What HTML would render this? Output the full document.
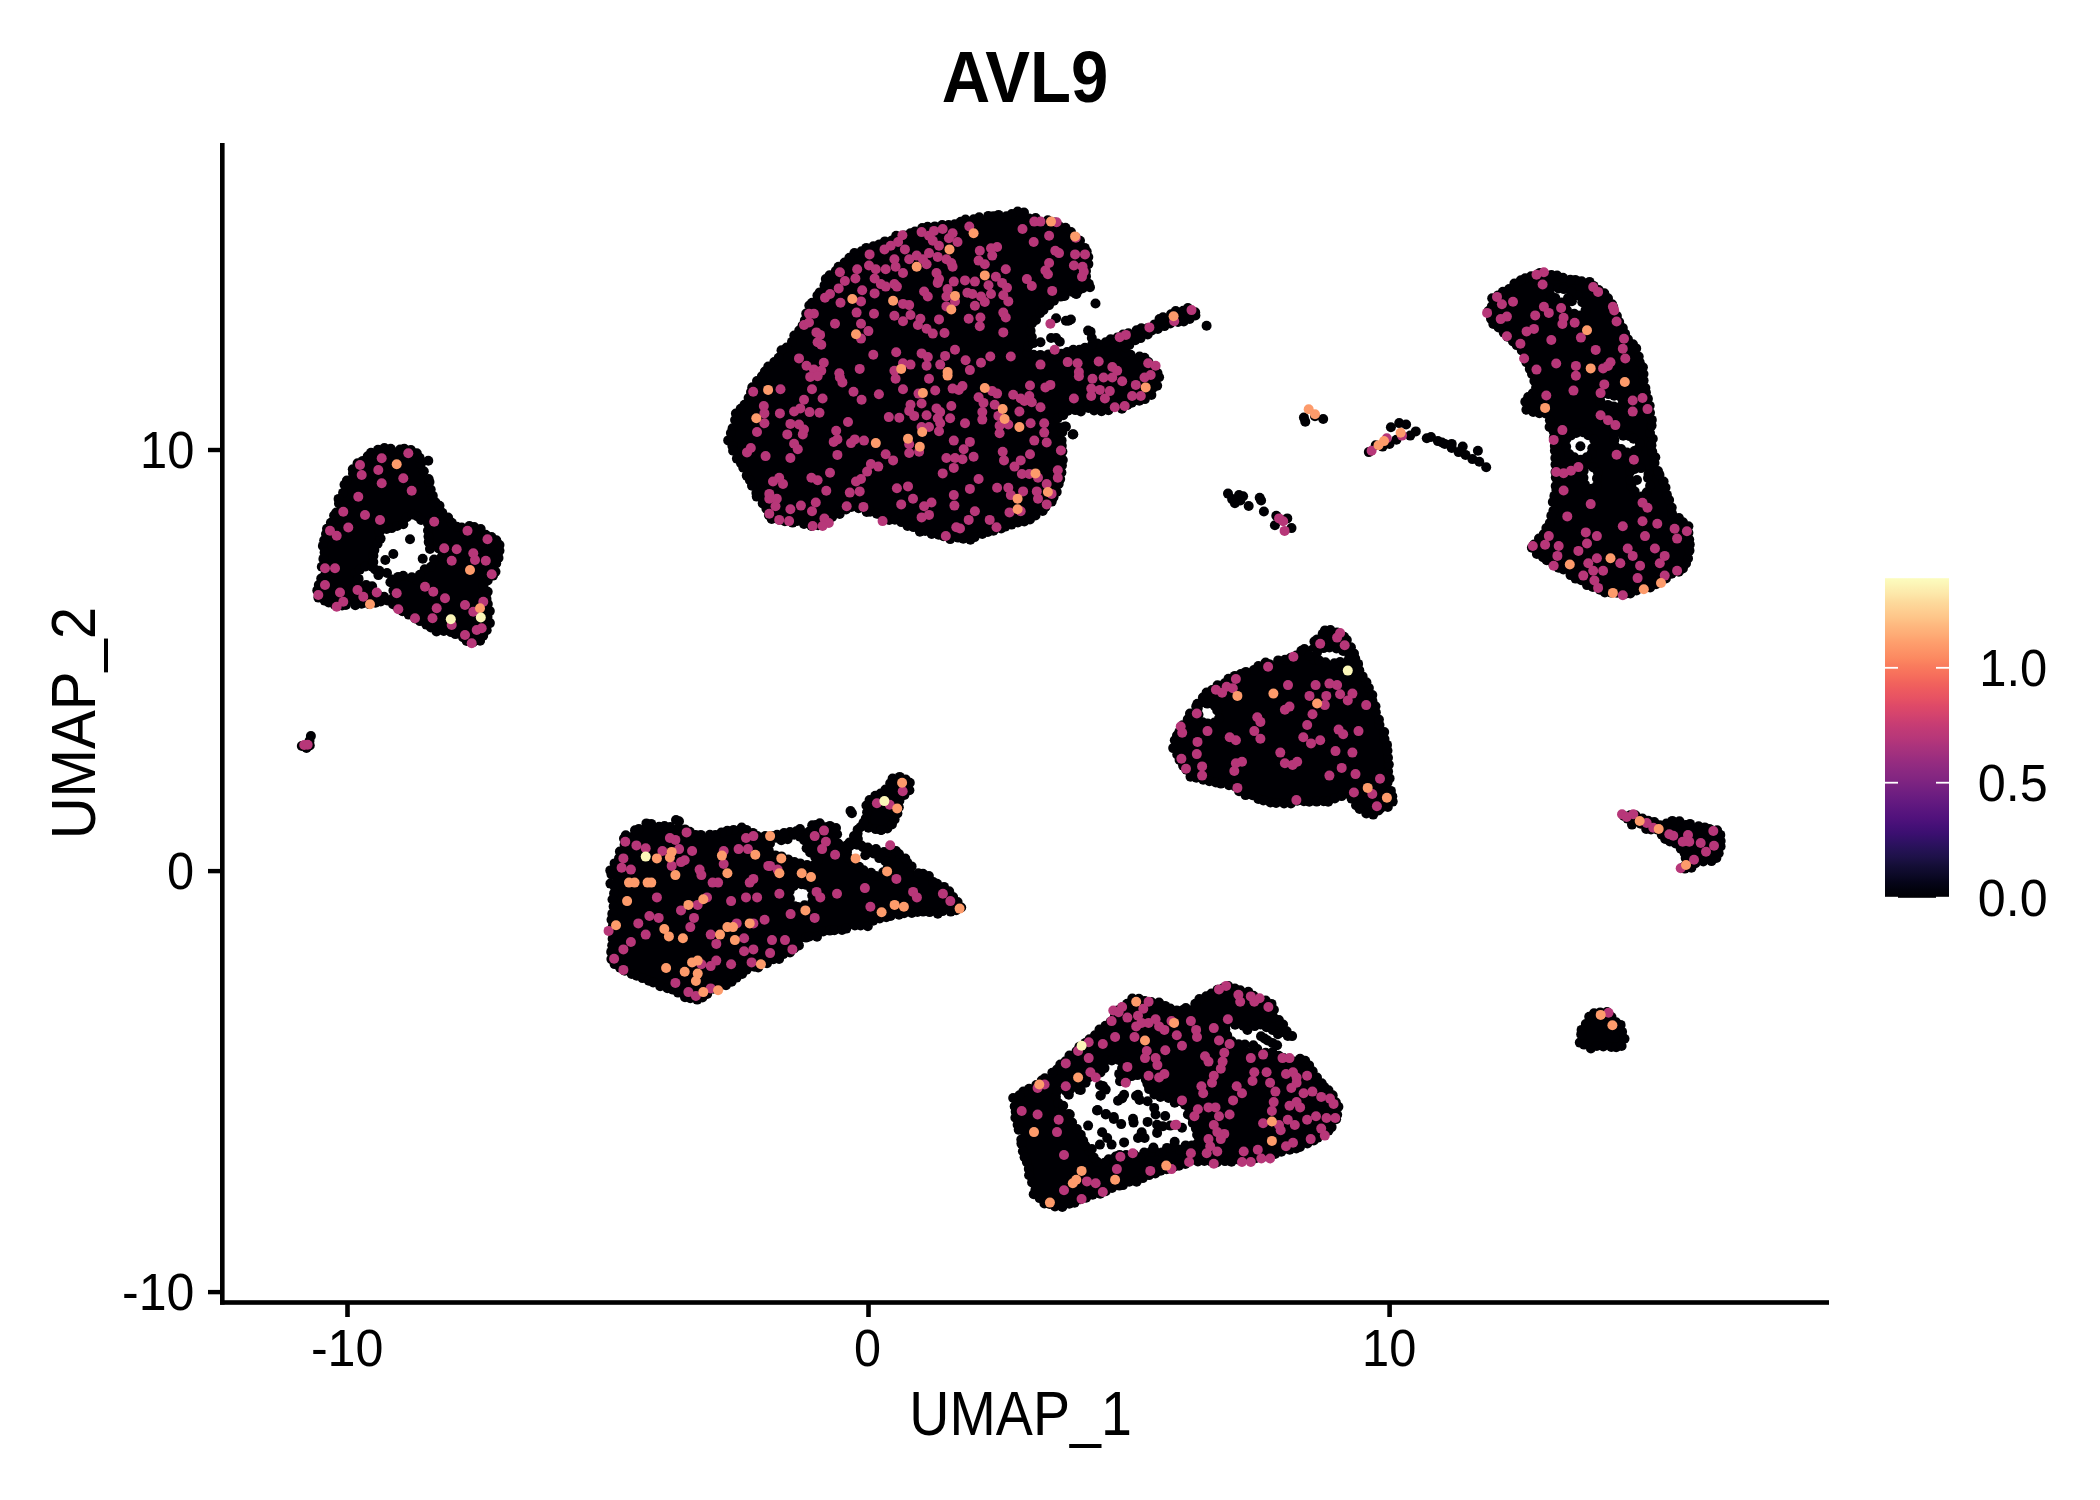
<!DOCTYPE html>
<html><head><meta charset="utf-8"><title>AVL9</title>
<style>html,body{margin:0;padding:0;background:#fff;width:2100px;height:1500px;overflow:hidden}svg{display:block}</style></head>
<body><svg width="2100" height="1500" viewBox="0 0 2100 1500">
<rect width="2100" height="1500" fill="#fff"/>
<g fill="#000004"><path fill-rule="evenodd" d="M372.2 452 364.7 460.9 364.5 461.2 364.2 461.4 363.9 461.6 363.6 461.8 363.3 462 362.9 462.1 354.6 464.9 348.7 478.3 348.6 478.5 340.5 494.7 337.2 509.2 337.1 509.6 337 509.9 336.8 510.3 328.6 525 324 537.4 324 550 324 550.3 322.3 573.6 322.3 574 322.2 574.4 322.1 574.7 317.2 587.7 316 594.8 323.8 599.9 334.3 605.9 356.4 604.3 356.7 604.3 372.8 604.3 385.7 601.1 386.1 601 386.4 601 386.8 601 387.2 601 387.6 601.1 387.9 601.2 388.3 601.3 388.6 601.5 388.9 601.7 389.2 601.9 398.9 610 411.8 616.4 411.9 616.5 426.9 624.8 427 624.9 437.7 631 446.7 631 447 631 447.4 631.1 447.7 631.1 448.1 631.3 461.4 636.3 461.7 636.4 462 636.6 462.3 636.7 472 643.7 482.4 638.5 487.8 631.8 489.3 608.4 487.7 595.9 484.5 586.3 484.4 585.9 484.4 585.5 484.3 585.1 484.3 584.7 484.4 584.3 484.5 583.9 484.6 583.5 484.8 583.2 485 582.8 485.2 582.5 485.5 582.2 485.8 581.9 494.7 574.5 497.7 557.6 497.8 557.4 500.7 545.7 494 534.9 474.1 527.3 454.7 525.7 454.3 525.6 453.9 525.5 453.5 525.4 453.2 525.2 452.9 525 452.5 524.8 452.2 524.6 452 524.3 451.7 524 451.5 523.7 445.1 512.4 438.8 506.2 438.6 505.8 438.3 505.5 438.1 505.1 431.4 491.8 431.2 491.3 426.2 476.4 418.3 455.7 410 448.8 396.8 447.4 372.2 452ZM356.1 572.9 356 572.5 356 572.1 356 571.7 356.1 571.3 356.2 570.9 356.3 570.5 356.5 570.1 356.7 569.8 356.9 569.5 357.2 569.2 357.5 568.9 357.8 568.7 358.1 568.5 358.5 568.3 358.9 568.2 359.2 568.1 359.6 568 370.6 567 371 567 371.4 567 371.8 567.1 372.2 567.2 372.5 567.3 372.9 567.5 373 567.5 373 567.5 372.9 567.1 372.8 566.7 372.7 566.3 372.7 565.9 372.7 565.5 372.8 565.2 373.9 559.9 372.8 553.4 372.7 553 372.7 552.6 372.7 552.2 372.8 551.9 372.9 551.5 373 551.1 373.2 550.8 376.5 544.8 376.7 544.4 380.4 539.1 379.4 534.1 379.3 533.7 379.3 533.3 379.3 532.9 379.4 532.5 379.5 532.2 379.6 531.8 379.8 531.4 380 531.1 380.2 530.8 380.5 530.5 380.8 530.2 381.1 530 381.4 529.8 381.8 529.6 382.1 529.5 382.5 529.4 382.9 529.3 383.3 529.3 383.7 529.3 389.2 529.9 398.7 524.5 399.1 524.3 399.5 524.2 399.9 524.1 400.3 524 400.7 524 403.9 524 410 515 410.2 514.7 410.5 514.4 410.8 514.2 411.1 514 411.4 513.8 411.8 513.6 412.2 513.5 412.5 513.4 412.9 513.3 413.3 513.3 413.7 513.3 414.1 513.4 414.5 513.5 414.8 513.6 415.2 513.8 415.5 514 415.8 514.2 416.1 514.5 422.4 520.7 427.1 523.1 427.5 523.3 427.8 523.6 428.1 523.8 428.3 524.1 428.6 524.4 428.8 524.7 429 525.1 429.1 525.4 429.2 525.8 429.3 526.2 429.3 526.6 429.3 527 429.2 527.3 428 535 428 545 431.8 548.8 439.6 549.3 439.9 549.4 440.3 549.4 440.7 549.6 441.1 549.7 441.4 549.9 441.7 550.1 442 550.4 442.3 550.6 442.5 550.9 442.7 551.3 442.9 551.6 443.1 552 443.2 552.3 443.3 552.7 443.3 553.1 443.3 553.5 443.3 553.9 443.2 554.3 443.1 554.6 442.9 555 442.7 555.3 442.5 555.7 442.3 556 442 556.2 434.7 562.9 434.4 563.2 429.2 567.1 422.9 572.7 418.4 578.5 418.2 578.8 417.9 579 417.6 579.3 417.3 579.5 416.9 579.7 416.6 579.8 416.2 579.9 415.8 580 415.4 580 415 580 414.6 579.9 414.3 579.9 413.9 579.7 413.5 579.6 413.2 579.4 408.9 576.7 401.2 576.7 393.7 578.6 393.3 578.7 392.9 578.7 392.5 578.7 392.1 578.7 391.7 578.6 391.3 578.5 391 578.3 390.6 578.1 390.3 577.9 390.3 577.9 392.9 591.2 393 591.6 393 592 393 592.4 392.9 592.8 392.8 593.1 392.7 593.5 392.5 593.9 392.3 594.2 392.1 594.5 391.9 594.8 391.6 595.1 391.3 595.3 390.9 595.5 390.6 595.7 390.2 595.8 389.9 595.9 389.5 596 389.1 596 388.7 596 375.7 595 375.3 594.9 374.9 594.8 374.5 594.7 374.1 594.5 373.8 594.3 373.5 594.1 373.2 593.8 372.9 593.5 372.7 593.2 372.4 592.8 372.3 592.5 372.1 592.1 372.1 591.7 372 591.3 371.5 584.1 362.4 585 362 585 361.6 585 361.2 584.9 360.9 584.8 360.5 584.7 360.1 584.5 359.8 584.4 359.5 584.1 359.2 583.9 358.9 583.6 358.7 583.3 358.5 582.9 358.3 582.6 358.2 582.2 358.1 581.9 356.1 572.9ZM387.7 573.4 387.2 572.2 382.5 571.2 375.9 569.9 375.5 569.8 375.2 569.7 374.8 569.5 374.7 569.5 374.8 569.8 374.9 570.2 375 570.6 375.2 573 386 573 386.4 573 386.8 573.1 387.2 573.2 387.5 573.3 387.7 573.4ZM947.6 224.7 947.3 224.8 923.1 228.4 903.7 235.7 903.6 235.7 874 245.6 855 252.7 840.9 264.5 829 276.3 819.4 293.1 819.3 293.4 809.6 307.9 802.4 324.8 802.2 325.1 802 325.5 792.2 340.3 792 340.4 777.2 360.2 776.8 360.6 764.6 372.8 752.7 387.1 745.5 401.5 745.4 401.7 735.7 418.6 728.9 439 735.7 454.7 745.4 471.8 745.5 472 755.3 491.5 765 506.1 765.2 506.4 765.4 506.8 769.6 517.4 782.1 521.6 798.7 521.6 799.1 521.6 799.4 521.6 799.8 521.7 815.5 526.2 836.2 514.7 836.4 514.6 851.2 507.2 851.6 507 851.9 506.9 852.3 506.8 852.7 506.8 853.1 506.8 853.5 506.8 853.9 506.9 873.7 511.8 874.1 511.9 874.5 512.1 889 519.3 905.9 524.2 906.4 524.3 923.3 531.6 947.5 536.4 966.6 540.3 966.9 540 967.2 539.7 967.5 539.5 967.8 539.3 968.2 539.1 985.4 531.7 985.8 531.6 986.1 531.5 1008.1 526.6 1036.6 517.1 1050.3 503.4 1059.6 484.9 1061.9 461.2 1061.9 437 1059.5 422.6 1059.5 422.2 1059.5 421.8 1059.5 421.4 1059.6 421 1059.7 420.7 1059.8 420.3 1060 420 1060.2 419.6 1060.4 419.3 1060.7 419.1 1068.1 411.7 1068.3 411.4 1068.7 411.2 1069 411 1069.3 410.8 1069.7 410.7 1070.1 410.6 1070.5 410.5 1070.9 410.5 1092.9 410.5 1121.7 408.1 1149.8 396.4 1158.2 386 1158.2 374 1145.1 358.9 1126.6 354.2 1126.3 354.1 1125.9 354 1125.6 353.8 1125.2 353.6 1124.9 353.3 1124.7 353 1124.4 352.7 1124.2 352.4 1124 352.1 1123.9 351.7 1123.7 351.3 1123.7 350.9 1123.6 350.5 1123.6 350.2 1123.7 349.8 1123.7 349.4 1123.9 349 1124 348.6 1124.2 348.3 1124.4 348 1124.7 347.7 1124.9 347.4 1125.2 347.1 1125.6 346.9 1150.2 332.1 1150.6 331.9 1150.9 331.8 1170.6 324.4 1170.9 324.3 1193.9 317.4 1196.6 312.1 1190.9 307.9 1166.4 314.6 1149.7 326.5 1149.3 326.7 1149 326.9 1148.6 327 1119 336.9 1089.4 346.7 1089 346.9 1054.4 354.3 1054 354.3 1053.6 354.4 1031.4 354.4 1031 354.3 1030.6 354.3 1030.3 354.2 1029.9 354.1 1029.6 353.9 1029.2 353.7 1028.9 353.5 1028.6 353.2 1028.4 352.9 1028.1 352.6 1027.9 352.3 1027.7 352 1027.6 351.6 1027.5 351.2 1027.4 350.9 1027.4 350.5 1027.4 350.1 1027.5 349.7 1027.5 349.3 1027.7 349 1027.8 348.6 1028 348.3 1028.2 348 1034.3 339.9 1030.2 329.6 1030 329.3 1029.9 328.9 1029.9 328.5 1029.9 328.1 1029.9 327.8 1030 327.4 1030 327 1030.2 326.6 1030.3 326.3 1030.5 326 1030.8 325.7 1040.6 313.3 1040.9 313 1041.1 312.8 1058.4 298 1058.7 297.8 1059 297.6 1059.3 297.4 1059.6 297.3 1079 290 1088.6 284.2 1086.7 274.7 1086.6 274.2 1086.6 273.8 1086.7 273.3 1088.9 257.4 1080 241.8 1068.3 230.1 1057.1 222.3 1031 219.9 1030.7 219.8 1030.3 219.7 1029.9 219.6 1029.5 219.4 1029.2 219.2 1028.9 219 1028.6 218.7 1028.3 218.4 1028.1 218.1 1024.5 212.8 1007.2 214.9 1007.2 214.9 975.3 218.6 947.6 224.7ZM758 835.5 743.5 827.3 720.9 832.6 720.8 832.6 702.2 836.3 701.8 836.4 701.4 836.4 701.1 836.4 700.7 836.3 700.4 836.3 700 836.1 685.5 830.8 667.3 827 646.4 823.6 628.2 833.6 623.4 841.5 619.8 854 619.7 854.4 619.6 854.7 619.4 855 610.9 868.5 614.3 889.3 614.4 889.7 614.4 890 614.4 890.4 612.6 908.8 612.6 945.7 612.6 946.1 610.9 962.4 621.5 970 637.7 975.3 638 975.4 638.3 975.6 654.7 984.7 676.7 992 677.2 992.2 694 1000.6 703.3 996 721.7 986.8 736.5 977.6 751.3 968.3 751.7 968.1 752.1 967.9 774 960.6 795.7 948 808.4 937.1 808.7 936.8 809 936.6 809.4 936.4 809.7 936.3 820.8 932.6 821.3 932.5 821.8 932.4 842 930.6 867.1 925.2 875.8 920 876.1 919.8 876.5 919.7 876.8 919.6 877.1 919.5 918.9 911.2 919.4 911.1 919.8 911.1 920.3 911.1 934.6 913.1 944.5 911.2 945 911.1 958.5 910.1 960.7 907.9 957 900.4 945.1 888.5 937.1 884.5 936.8 884.3 936.4 884.1 936.1 883.8 935.9 883.5 935.6 883.2 935.4 882.9 932.1 877 925.1 875.2 924.7 875 916.2 871.8 915.8 871.7 915.4 871.5 915.1 871.2 914.8 870.9 914.5 870.6 906.2 860.3 902.4 857 902.4 857 896.7 852.2 890.5 853 890.4 853 880.4 854 880 854 879.6 854 879.3 853.9 878.9 853.8 878.6 853.7 878.2 853.6 870.2 849.6 869.9 849.4 869.6 849.2 861.6 843.2 861.3 843 861.1 842.7 860.8 842.4 860.6 842.1 860.4 841.8 857.4 835.8 857.3 835.4 857.1 835.1 857.1 834.7 857 834.3 857 833.9 857 833.6 857.1 833.2 857.2 832.8 857.3 832.4 857.5 832.1 857.7 831.8 857.9 831.5 858.2 831.2 858.4 830.9 858.8 830.7 859.1 830.5 859.4 830.3 860.2 830 860 830 857.1 830 853.4 835.1 848.5 843.9 848.3 844.3 848.1 844.6 847.8 844.9 847.5 845.1 847.2 845.3 846.9 845.5 846.5 845.7 846.1 845.8 845.8 845.9 845.4 846 845 846 840 846 839.6 846 839.2 845.9 838.8 845.8 838.5 845.7 838.1 845.5 837.8 845.3 837.5 845.1 837.2 844.8 836.9 844.5 836.7 844.2 836.5 843.9 836.3 843.5 836.2 843.2 836.1 842.8 836 842.4 836 842 836 841.6 837 832.3 835.7 827.4 828.9 826.1 824.6 826.7 824.2 826.7 823.8 826.7 823.4 826.7 823 826.6 814.4 824.4 806 832.2 805.7 832.5 805.4 832.7 805.1 832.9 804.7 833 804.4 833.2 804 833.2 803.6 833.3 803.2 833.3 802.8 833.3 802.4 833.2 802.1 833.1 801.7 833 796.6 830.7 787.6 831.2 784.6 833.7 784.3 834 783.9 834.2 783.6 834.4 783.2 834.5 782.8 834.6 782.5 834.7 771.2 836 770.7 836 760 836 759.6 836 759.2 835.9 758.8 835.8 758.4 835.7 758 835.5ZM847.2 852.3 847.1 851.9 847 851.5 847 851.1 847 850.7 847.1 850.3 847.2 849.9 847.3 849.5 847.5 849.1 847.7 848.8 847.9 848.5 848.2 848.2 848.5 847.9 848.8 847.7 849.2 847.5 849.5 847.3 849.9 847.2 856.9 845.2 857.3 845.1 857.7 845 858 845 858.4 845 858.8 845.1 859.2 845.2 859.5 845.3 859.9 845.5 860.2 845.7 866.2 849.6 874.1 854.6 874.4 854.8 885.4 862.8 885.7 863 885.9 863.3 886.2 863.6 886.4 863.9 886.6 864.2 886.7 864.6 886.9 864.9 886.9 865.3 887 865.7 887 866.1 887 866.5 886.9 866.8 886.8 867.2 886.7 867.6 886.5 867.9 886.3 868.3 886.1 868.6 881.1 874.6 880.8 874.8 880.5 875.1 880.2 875.3 879.9 875.5 879.5 875.7 879.2 875.8 878.8 875.9 878.4 876 878 876 877.6 876 877.2 875.9 876.9 875.8 866.9 872.8 866.5 872.7 866.2 872.6 865.9 872.4 865.6 872.2 857.9 866.4 852.2 863.6 851.9 863.4 851.5 863.2 851.2 862.9 851 862.6 850.7 862.3 850.5 862 850.3 861.6 850.2 861.3 847.2 852.3ZM769.3 844 769.3 843.6 769.4 843.2 769.5 842.8 769.6 842.5 769.8 842.1 770 841.8 770.2 841.5 770.5 841.2 770.8 840.9 771.1 840.7 771.4 840.5 771.8 840.3 772.1 840.2 772.5 840.1 772.9 840 773.3 840 782.5 840 795.2 835 795.6 834.9 796 834.8 796.3 834.7 796.7 834.7 797.1 834.7 797.5 834.8 797.8 834.9 798.2 835 798.5 835.1 798.9 835.3 799.2 835.6 799.5 835.8 799.7 836.1 804.3 841.4 804.6 841.7 804.8 842.1 805 842.5 805.1 842.9 806.8 848.4 817.2 856.9 817.5 857.2 817.8 857.4 818 857.7 818.2 858.1 818.4 858.4 818.5 858.8 818.6 859.2 818.7 859.5 818.7 859.9 818.7 860.3 818.6 860.7 818.6 861.1 818.4 861.4 818.3 861.8 818.1 862.1 817.9 862.4 817.6 862.7 817.4 863 817.1 863.2 816.7 863.4 816.4 863.6 816 863.8 815.7 863.9 807.7 865.9 807.3 866 806.9 866 806.6 866 806.2 866 805.8 865.9 805.4 865.8 795.4 862.5 795 862.3 794.6 862.1 788.5 858.5 775.9 855.9 775.5 855.8 775.2 855.7 774.8 855.5 774.5 855.4 774.2 855.1 770.8 852.4 770.5 852.2 770.2 851.9 770 851.6 769.8 851.2 769.6 850.9 769.5 850.5 769.4 850.1 769.3 849.7 769.3 849.3 769.3 844ZM789.2 891.1 789.1 890.7 789 890.3 789 889.9 789 889.5 789.1 889.1 789.2 888.7 789.3 888.4 789.5 888 789.7 887.7 790 887.4 790.3 887.1 790.6 886.8 790.9 886.6 791.3 886.4 791.6 886.2 792 886.1 792.4 886 805.4 884 805.8 884 806.2 884 806.6 884 807 884.1 807.3 884.2 807.7 884.4 808 884.6 808.4 884.8 808.7 885 809 885.3 809.2 885.6 809.4 885.9 809.6 886.3 809.8 886.7 809.9 887 812.9 899 813 899.4 813 899.8 813 900.2 813 900.6 812.9 901 812.8 901.4 812.6 901.7 812.4 902.1 812.2 902.4 811.9 902.7 811.6 903 811.3 903.3 811 903.5 810.6 903.7 810.3 903.8 798.3 907.8 797.9 907.9 797.5 908 797.1 908 796.7 908 796.3 907.9 795.9 907.8 795.5 907.7 795.1 907.5 794.8 907.3 794.5 907.1 794.2 906.8 793.9 906.5 793.7 906.2 793.5 905.8 793.3 905.5 793.2 905.1 789.2 891.1ZM862.8 828.9 866.4 827.3 866.8 827.2 867.1 827.1 867.5 827 867.9 827 868.2 827 868.6 827 869 827.1 876.9 829.1 885.1 830.7 890.7 826.7 891 826.6 892.1 825.9 895.7 818.8 897.7 809.8 898.7 801.5 898.8 801.1 898.9 800.7 899.1 800.3 899.3 799.9 899.5 799.6 899.8 799.3 900.1 799 907.7 792.3 909.9 784 904.8 778.8 896.5 776.3 893.7 777.5 887.5 788.6 887.3 789 887.1 789.2 886.8 789.5 886.6 789.8 886.3 790 886 790.2 876.9 795.3 870.6 800.4 866.4 804.1 865.5 808.7 867.6 812.9 867.7 813.3 867.9 813.6 867.9 814 868 814.4 868 814.8 868 815.2 867.9 815.5 867.8 815.9 867.7 816.3 867.5 816.6 867.3 816.9 867.1 817.2 866.8 817.5 863.1 821.3 863.9 825.2 864 825.5 864 825.9 864 826.3 863.9 826.7 863.8 827.1 863.7 827.5 863.5 827.8 863.3 828.2 863.1 828.5 862.8 828.8 862.8 828.9ZM1013.6 1098.9 1015.1 1113.8 1020.3 1134.6 1020.4 1135.2 1022.1 1150.4 1028.9 1165.7 1029 1166.1 1029.1 1166.5 1029.2 1166.8 1030.9 1180.6 1035.7 1196.6 1046.3 1204.1 1060.3 1207.2 1080.2 1200.6 1097.8 1193.6 1098 1193.5 1119.1 1186.4 1119.2 1186.4 1141.8 1179.5 1155.6 1172.6 1155.9 1172.4 1156.2 1172.3 1173.8 1167 1191.5 1161.7 1191.8 1161.6 1192.2 1161.6 1192.6 1161.6 1218.9 1161.6 1244.9 1159.8 1271.1 1154.6 1295.3 1149.4 1317.5 1139.2 1332.1 1129.4 1338.3 1115.6 1336.8 1100.3 1312 1071.6 1311.8 1071.3 1311.6 1071 1311.4 1070.7 1307.3 1062.2 1300.5 1057.4 1298.2 1058.3 1293.9 1061.7 1293.6 1062 1293.2 1062.2 1292.9 1062.3 1292.5 1062.4 1292.1 1062.5 1291.8 1062.6 1291.4 1062.6 1291 1062.6 1290.6 1062.5 1290.2 1062.4 1289.9 1062.3 1289.5 1062.1 1289.2 1061.9 1280.8 1056.3 1280.5 1056.1 1280.2 1055.8 1279.9 1055.5 1279.7 1055.2 1278.7 1053.8 1269.6 1053 1269.2 1052.9 1268.9 1052.8 1260 1050.2 1250.6 1052.8 1250.2 1052.9 1249.8 1053 1249.4 1053 1249 1053 1248.6 1052.9 1248.2 1052.8 1247.9 1052.7 1247.5 1052.5 1247.2 1052.3 1246.9 1052 1246.6 1051.7 1246.3 1051.4 1246.1 1051.1 1245.9 1050.7 1245.7 1050.4 1243.7 1044.8 1234.8 1042.9 1234.5 1042.8 1234.1 1042.7 1233.7 1042.5 1233.4 1042.2 1233 1042 1232.7 1041.7 1227.5 1036 1227.3 1035.7 1227.1 1035.3 1226.9 1035 1226.7 1034.6 1226.6 1034.2 1226.5 1033.8 1225.5 1025.3 1225.5 1024.9 1225.5 1024.5 1225.6 1024.1 1225.7 1023.7 1225.8 1023.3 1225.9 1023 1226.1 1022.6 1226.4 1022.3 1226.6 1022 1226.9 1021.7 1227.2 1021.5 1227.6 1021.3 1227.9 1021.1 1228.3 1021 1228.7 1020.9 1229.1 1020.8 1229.5 1020.8 1229.9 1020.8 1230.3 1020.9 1230.6 1021 1231 1021.1 1231.4 1021.3 1231.7 1021.5 1240 1026.9 1246.3 1029.5 1253 1027.2 1253 1027.2 1260.1 1024.8 1260.5 1024.7 1260.8 1024.6 1261.2 1024.6 1261.6 1024.6 1262 1024.6 1262.3 1024.7 1262.7 1024.8 1263 1025 1269.2 1027.8 1269.6 1027.9 1269.9 1028.1 1270.2 1028.3 1270.4 1028.6 1273 1031.2 1275.2 1032.6 1278 1031.5 1278.4 1031.4 1278.7 1031.3 1279.1 1031.2 1279.5 1031.2 1279.9 1031.2 1280.3 1031.3 1280.6 1031.4 1281 1031.5 1281.4 1031.7 1281.7 1031.9 1284.6 1033.8 1285 1034 1285.3 1034.3 1285.6 1034.7 1287.9 1037.7 1290.8 1038.2 1291.2 1038 1291.2 1034.3 1286.1 1030.2 1285.8 1030 1285.6 1029.7 1285.4 1029.5 1285.2 1029.2 1281.3 1022.7 1274.6 1017.4 1274.3 1017.2 1274.1 1016.9 1273.8 1016.6 1273.6 1016.2 1273.4 1015.9 1273.3 1015.5 1273.2 1015.1 1273.1 1014.8 1273.1 1014.4 1273.1 1014 1273.5 1009.1 1269.7 1003.1 1244 991.3 1229.3 986.4 1220.5 987.9 1203.5 998.1 1203.4 998.2 1187.5 1007 1187.2 1007.1 1186.8 1007.3 1176.3 1010.8 1175.9 1010.9 1175.5 1011 1175.1 1011 1174.7 1011 1174.3 1010.9 1173.9 1010.9 1173.6 1010.7 1173.2 1010.6 1156.2 1002.1 1133.7 998.8 1119.7 1008.1 1109.6 1023.3 1109.4 1023.7 1109.1 1024 1108.7 1024.3 1092.9 1036.6 1075.5 1050.5 1061.5 1064.4 1061.4 1064.6 1045.5 1078.7 1045.2 1078.9 1044.9 1079.1 1027.4 1089.7 1013.6 1098.9ZM1055.8 1096.8 1055.6 1096.4 1055.6 1096 1055.5 1095.6 1055.5 1095.2 1055.6 1094.8 1055.7 1094.4 1055.8 1094 1056 1093.7 1056.2 1093.3 1056.4 1093 1056.7 1092.7 1057 1092.4 1057.3 1092.2 1057.6 1092 1058 1091.8 1058.4 1091.6 1072.4 1087.4 1080.6 1081.3 1080.9 1081.1 1081.2 1080.9 1081.5 1080.8 1093.5 1075.8 1102.6 1069.3 1106.6 1061.4 1106.8 1061.1 1107 1060.8 1107.2 1060.5 1107.5 1060.2 1107.8 1060 1108.1 1059.8 1108.5 1059.6 1108.8 1059.4 1109.2 1059.3 1109.6 1059.2 1109.9 1059.2 1110.3 1059.2 1110.7 1059.2 1121 1060.7 1121.4 1060.8 1121.7 1060.9 1122.1 1061 1122.5 1061.2 1122.8 1061.4 1123.1 1061.7 1123.4 1062 1123.6 1062.3 1123.8 1062.6 1124 1062.9 1124.2 1063.3 1124.3 1063.7 1124.4 1064.1 1124.4 1064.5 1124.4 1064.9 1124.4 1065.2 1124.3 1065.6 1124.2 1066 1124 1066.4 1123.9 1066.7 1123.6 1067 1123.4 1067.3 1118.2 1073.2 1119.6 1079.7 1123.2 1081.9 1129.9 1077.5 1130.3 1077.3 1130.7 1077.1 1131.1 1077 1131.5 1076.9 1131.9 1076.8 1132.3 1076.8 1132.7 1076.8 1143.7 1078.3 1144.1 1078.4 1144.5 1078.5 1144.8 1078.6 1145.2 1078.8 1145.5 1079 1145.8 1079.3 1146.1 1079.6 1146.4 1079.9 1146.6 1080.2 1146.8 1080.6 1146.9 1080.9 1147 1081.3 1148.9 1088.9 1154.8 1094.2 1161.1 1096.7 1165 1097.4 1175.3 1098.9 1175.6 1098.9 1176 1099 1176.3 1099.1 1176.6 1099.3 1176.9 1099.5 1187.9 1106.8 1188.3 1107.1 1188.6 1107.3 1188.8 1107.7 1189.1 1108 1189.3 1108.4 1189.4 1108.7 1189.6 1109.1 1197.6 1139.9 1197.7 1140.3 1197.8 1140.7 1197.8 1141.1 1197.7 1141.5 1197.7 1141.9 1197.6 1142.3 1197.4 1142.6 1197.2 1143 1197 1143.3 1196.8 1143.6 1196.5 1143.9 1196.2 1144.1 1195.9 1144.4 1195.5 1144.5 1195.2 1144.7 1183.4 1149.1 1183.1 1149.2 1182.7 1149.3 1182.3 1149.3 1181.9 1149.4 1181.5 1149.3 1181.1 1149.3 1180.8 1149.2 1171.6 1146.1 1162.2 1152.4 1161.9 1152.6 1161.5 1152.7 1161.1 1152.9 1160.7 1153 1160.3 1153 1159.9 1153 1159.5 1153 1159.1 1152.9 1146.6 1149.8 1140.9 1155.5 1140.5 1155.8 1140.2 1156 1139.9 1156.2 1139.5 1156.4 1139.1 1156.5 1138.7 1156.6 1138.3 1156.7 1137.9 1156.7 1137.5 1156.7 1137.1 1156.6 1123.4 1153.2 1117.6 1154.9 1103.4 1163.5 1103.1 1163.6 1102.7 1163.8 1102.4 1163.9 1102 1164 1101.6 1164 1101.2 1164 1100.9 1164 1100.5 1163.9 1100.1 1163.8 1099.8 1163.7 1099.4 1163.5 1099.1 1163.3 1098.8 1163.1 1098.5 1162.9 1091.2 1155.5 1090.9 1155.2 1090.6 1154.9 1090.4 1154.5 1083.2 1139.9 1072.6 1122.3 1062.1 1113.2 1061.8 1112.9 1061.5 1112.6 1061.2 1112.2 1061.1 1111.9 1060.9 1111.5 1055.8 1096.8ZM1173.7 741.9 1172.7 745.7 1177.9 753.4 1178 753.7 1178.2 754 1184.2 767.5 1190.8 776.8 1209 782.4 1227 783.9 1227.3 783.9 1227.7 784 1228 784.1 1228.4 784.2 1228.7 784.4 1246.7 794.9 1265.9 800.8 1284.9 803.7 1302.7 800.8 1303.1 800.7 1303.6 800.7 1325.7 802.2 1344.8 794.9 1345.2 794.7 1345.6 794.6 1346 794.6 1346.4 794.6 1346.8 794.6 1347.2 794.7 1347.6 794.8 1347.9 795 1348.3 795.1 1348.6 795.4 1348.9 795.6 1349.2 795.9 1349.5 796.2 1358.3 808 1363.7 812 1372.8 816.6 1376.9 811.4 1377.2 811.1 1377.5 810.8 1377.8 810.6 1378.2 810.3 1391.6 803.7 1392.7 793.6 1389.1 788.7 1388.8 788.4 1388.6 788 1388.5 787.7 1388.4 787.3 1388.3 786.9 1388.3 786.5 1388.3 786.1 1389.8 763.6 1385.3 741.4 1377.7 718.6 1377.6 718.3 1374.6 706 1374.6 705.9 1371.6 692.7 1361.1 673.2 1360.9 672.8 1354.8 657.5 1354.8 657.4 1349 641.4 1336.9 630.7 1325.2 629.5 1318.8 638.4 1318.6 638.7 1318.3 639 1318 639.3 1305.8 648.4 1298.2 654.5 1297.8 654.7 1297.5 654.9 1297.2 655.1 1296.8 655.2 1281.5 659.8 1281.1 659.9 1266.3 662.9 1251.5 670.3 1251.1 670.5 1231.3 678.1 1216.5 685.5 1203.5 695.6 1191.7 711.9 1173.7 741.9ZM1313 658.9 1312.7 658.8 1312.3 658.6 1312 658.4 1311.6 658.2 1311.3 658 1311.1 657.7 1310.8 657.4 1310.6 657.1 1310.4 656.8 1310.3 656.4 1310.1 656 1310.1 655.7 1310 655.3 1310 654.9 1310 654.5 1310.1 654.1 1310.2 653.7 1310.3 653.4 1310.5 653 1310.7 652.7 1311 652.4 1311.2 652.1 1311.5 651.9 1311.8 651.6 1312.2 651.4 1312.5 651.3 1312.9 651.2 1313.3 651.1 1329.3 648.1 1329.7 648 1330.1 648 1330.5 648 1331 648.1 1347 652.1 1347.3 652.2 1347.7 652.4 1348 652.6 1348.4 652.8 1348.7 653 1348.9 653.3 1349.2 653.6 1349.4 653.9 1349.6 654.2 1349.7 654.6 1349.9 655 1349.9 655.3 1350 655.7 1350 656.1 1350 656.5 1349.9 656.9 1349.8 657.3 1349.7 657.6 1349.5 658 1349.3 658.3 1349 658.6 1348.8 658.9 1348.5 659.1 1348.2 659.4 1347.8 659.6 1347.5 659.7 1347.1 659.8 1346.7 659.9 1330.7 662.9 1330.3 663 1329.9 663 1329.5 663 1329 662.9 1313 658.9ZM1197.1 708.1 1197.1 707.7 1197 707.3 1197 706.9 1197 706.5 1197.1 706.1 1197.2 705.8 1197.3 705.4 1197.5 705.1 1197.7 704.7 1197.9 704.4 1198.2 704.1 1198.5 703.9 1198.8 703.7 1199.1 703.5 1199.5 703.3 1199.8 703.2 1200.2 703.1 1200.6 703 1201 703 1201.4 703 1212.4 704 1212.8 704.1 1213.2 704.2 1213.5 704.3 1213.9 704.5 1214.2 704.7 1214.6 704.9 1214.9 705.2 1215.1 705.5 1215.4 705.8 1215.6 706.2 1215.7 706.6 1215.9 706.9 1218.9 717.9 1218.9 718.3 1219 718.7 1219 719.1 1219 719.5 1218.9 719.9 1218.8 720.2 1218.7 720.6 1218.5 720.9 1218.3 721.3 1218.1 721.6 1217.8 721.9 1217.5 722.1 1217.2 722.3 1216.9 722.5 1216.5 722.7 1216.2 722.8 1215.8 722.9 1215.4 723 1215 723 1214.6 723 1203.6 722 1203.2 721.9 1202.8 721.8 1202.5 721.7 1202.1 721.5 1201.8 721.3 1201.4 721.1 1201.1 720.8 1200.9 720.5 1200.6 720.2 1200.4 719.8 1200.3 719.4 1200.1 719.1 1197.1 708.1ZM1488.8 312.1 1490.8 321.9 1507 335.8 1507.2 336 1522 350.8 1522.3 351.1 1522.5 351.4 1522.7 351.7 1522.9 352.1 1527.8 364.4 1527.9 364.7 1535.3 386.9 1535.4 387.3 1535.5 387.7 1535.5 388.1 1535.5 388.5 1535.5 388.9 1535.4 389.2 1535.2 389.6 1535.1 390 1534.9 390.3 1534.6 390.7 1534.4 391 1526 399.4 1527.6 409.6 1544.8 413.9 1545.2 414 1545.5 414.1 1545.9 414.3 1546.2 414.5 1546.5 414.7 1546.8 415 1547 415.3 1547.2 415.6 1547.4 415.9 1547.6 416.2 1547.7 416.6 1555.1 441.3 1555.2 441.6 1555.2 442 1555.3 442.4 1555.3 496.7 1555.2 497.2 1552.8 514.5 1552.7 514.9 1552.5 515.3 1552.4 515.7 1545 530.5 1544.8 530.8 1544.6 531.1 1531.9 548.1 1539 555.2 1553.4 564.8 1570.5 574.6 1570.7 574.7 1590 586.8 1603.9 591.4 1627.3 593.7 1650.8 586.7 1667.7 577.1 1667.9 577 1686 567.9 1690.3 553 1688 525.8 1674.5 514.5 1674.2 514.3 1674 514 1673.7 513.7 1673.5 513.3 1673.4 513 1673.2 512.6 1665.9 488.2 1656.1 466.2 1656 465.9 1655.9 465.5 1651 443.3 1650.9 442.8 1650.9 442.4 1650.9 408.4 1646.1 389.1 1646 388.9 1641.1 362.2 1634.1 345.8 1624.6 333.9 1624.4 333.6 1624.2 333.2 1624 332.9 1614.3 308.5 1605 292.3 1591.7 283.4 1562.9 278.6 1562.5 278.5 1545.8 273.7 1534.9 273.7 1516.3 283.1 1495.3 297.1 1488.8 312.1ZM1630 472.6 1630 472.2 1630 471.8 1630 471.4 1630.1 471 1630.2 470.7 1630.4 470.3 1630.6 470 1630.8 469.6 1631 469.3 1631.3 469.1 1631.6 468.8 1631.9 468.6 1632.2 468.4 1632.6 468.3 1633 468.1 1633.3 468.1 1633.7 468 1634.1 468 1634.5 468 1642.5 469 1642.9 469.1 1643.3 469.2 1643.6 469.4 1644 469.5 1644.3 469.8 1644.7 470 1644.9 470.3 1645.2 470.6 1645.4 470.9 1645.6 471.3 1645.8 471.6 1645.9 472 1648.9 484 1649 484.4 1649 484.8 1649 485.2 1649 485.5 1648.9 485.9 1648.8 486.3 1648.6 486.6 1648.5 487 1644.5 494 1644.3 494.3 1644 494.6 1643.8 494.9 1643.5 495.1 1643.2 495.4 1642.8 495.6 1642.5 495.7 1642.1 495.8 1641.7 495.9 1641.4 496 1641 496 1640.6 496 1640.2 495.9 1639.8 495.8 1639.5 495.7 1639.1 495.5 1638.8 495.3 1638.5 495.1 1638.2 494.8 1637.9 494.6 1632.9 488.6 1632.7 488.3 1632.5 488 1632.3 487.6 1632.2 487.3 1632.1 486.9 1632 486.6 1630 472.6ZM1613.3 439.6 1613.2 439.2 1613.1 438.8 1613 438.4 1613 438.1 1613 437.7 1613.1 437.3 1613.2 436.9 1613.3 436.5 1613.4 436.2 1613.6 435.8 1613.9 435.5 1614.1 435.2 1614.4 434.9 1614.7 434.7 1615.1 434.5 1615.4 434.3 1615.8 434.2 1616.2 434.1 1616.5 434 1616.9 434 1617.3 434 1617.7 434.1 1628.7 436.1 1629.1 436.2 1629.5 436.3 1629.8 436.4 1630.1 436.6 1630.5 436.8 1639.5 443.8 1639.8 444.1 1640 444.4 1640.3 444.7 1640.5 445 1640.7 445.4 1640.8 445.8 1640.9 446.2 1641 446.6 1641 447 1641 447.4 1640.9 447.8 1640.8 448.1 1640.7 448.5 1640.5 448.9 1640.3 449.2 1640.1 449.6 1639.8 449.8 1639.5 450.1 1639.2 450.3 1638.8 450.6 1638.5 450.7 1638.1 450.8 1631.1 452.8 1630.7 452.9 1630.4 453 1630 453 1629.6 453 1629.2 452.9 1628.9 452.8 1628.5 452.7 1618.5 448.7 1618.2 448.6 1617.8 448.4 1617.5 448.1 1617.2 447.9 1616.9 447.6 1616.7 447.3 1616.5 446.9 1616.3 446.6 1613.3 439.6ZM1601.6 401.2 1601.3 400.9 1601 400.7 1600.8 400.4 1600.6 400 1600.4 399.7 1600.2 399.3 1600.1 398.9 1600 398.5 1600 398.1 1600 397.8 1600.1 397.4 1600.1 397 1600.3 396.6 1600.4 396.2 1600.6 395.9 1600.8 395.6 1601.1 395.3 1601.4 395 1601.7 394.7 1602 394.5 1602.4 394.3 1602.7 394.2 1603.1 394.1 1603.5 394 1611.5 393 1611.9 393 1612.3 393 1612.8 393.1 1613.2 393.2 1613.6 393.3 1613.9 393.5 1622.9 398.5 1623.3 398.7 1623.6 398.9 1623.9 399.2 1624.1 399.5 1624.3 399.8 1624.5 400.1 1624.7 400.5 1624.8 400.9 1624.9 401.2 1625 401.6 1625 402 1625 402.4 1624.9 402.8 1624.8 403.1 1624.7 403.5 1624.5 403.9 1624.3 404.2 1624.1 404.5 1623.9 404.8 1623.6 405.1 1623.3 405.3 1622.9 405.5 1622.6 405.7 1622.2 405.8 1621.9 405.9 1612.9 407.9 1612.5 408 1612.1 408 1611.7 408 1611.3 407.9 1611 407.9 1610.6 407.7 1610.3 407.6 1609.9 407.4 1609.6 407.2 1601.6 401.2ZM1583 470.2 1583 469.8 1583 469.4 1583.1 469.1 1583.2 468.7 1583.4 468.3 1583.6 467.9 1583.8 467.6 1584.1 467.3 1584.3 467 1584.7 466.8 1585 466.5 1585.3 466.4 1585.7 466.2 1586.1 466.1 1586.5 466 1586.9 466 1587.3 466 1587.7 466.1 1588.1 466.2 1595.1 468.2 1595.5 468.3 1595.8 468.4 1596.2 468.6 1596.5 468.9 1596.8 469.1 1597 469.4 1597.3 469.7 1597.5 470 1597.7 470.4 1597.8 470.8 1597.9 471.1 1598 471.5 1598 471.9 1598 472.3 1597 485.3 1596.9 485.7 1596.8 486.1 1596.7 486.5 1596.6 486.8 1596.4 487.2 1596.1 487.5 1595.9 487.8 1595.6 488.1 1595.2 488.3 1594.9 488.5 1594.5 488.7 1594.2 488.8 1593.8 488.9 1588.8 489.9 1588.4 490 1588 490 1587.6 490 1587.2 489.9 1586.8 489.8 1586.4 489.7 1586.1 489.5 1585.7 489.3 1585.4 489 1585.1 488.8 1584.9 488.5 1584.6 488.1 1584.4 487.8 1584.3 487.4 1584.1 487 1584.1 486.6 1584 486.2 1583 470.2ZM1566 440.4 1566 440 1566 439.6 1566.1 439.2 1566.2 438.8 1566.3 438.4 1566.5 438.1 1566.7 437.7 1566.9 437.4 1567.2 437.1 1567.5 436.9 1567.8 436.6 1568.2 436.5 1568.5 436.3 1578.5 432.3 1578.9 432.2 1579.2 432.1 1579.6 432 1580 432 1580.4 432 1580.7 432.1 1581.1 432.2 1581.4 432.3 1581.8 432.4 1591.8 437.4 1592.1 437.6 1592.5 437.8 1592.8 438.1 1593 438.4 1593.3 438.7 1593.5 439.1 1593.7 439.4 1593.8 439.8 1593.9 440.2 1594 440.6 1594 441 1594 441.4 1593 452.4 1592.9 452.7 1592.8 453.1 1592.7 453.5 1592.6 453.8 1592.4 454.1 1592.2 454.4 1591.9 454.7 1591.7 455 1591.4 455.2 1591 455.4 1590.7 455.6 1590.4 455.8 1579.4 459.8 1579 459.9 1578.6 460 1578.2 460 1577.8 460 1577.5 460 1577.1 459.9 1576.7 459.8 1576.3 459.6 1576 459.5 1575.7 459.3 1568.7 454.3 1568.4 454 1568.1 453.8 1567.8 453.5 1567.6 453.2 1567.4 452.8 1567.3 452.5 1567.2 452.1 1567.1 451.7 1567 451.4 1566 440.4ZM1567 303.6 1567 303.2 1567 302.8 1567 302.4 1567.1 302 1567.2 301.6 1567.4 301.3 1567.6 300.9 1567.8 300.6 1568.1 300.3 1568.3 300 1568.6 299.8 1569 299.6 1569.3 299.4 1569.7 299.2 1570 299.1 1570.4 299 1577.4 298 1577.8 298 1578.2 298 1578.6 298 1579 298.1 1579.4 298.2 1579.8 298.4 1580.1 298.6 1580.4 298.8 1580.7 299.1 1581 299.4 1581.3 299.7 1581.5 300 1581.7 300.4 1581.8 300.7 1584.8 309.7 1584.9 310.1 1585 310.5 1585 310.9 1585 311.3 1584.9 311.7 1584.8 312.1 1584.7 312.5 1584.5 312.8 1584.3 313.2 1584.1 313.5 1583.8 313.8 1583.5 314.1 1583.2 314.3 1582.9 314.5 1582.5 314.7 1582.1 314.8 1581.8 314.9 1581.4 315 1581 315 1580.6 315 1571.6 314 1571.2 313.9 1570.8 313.8 1570.4 313.7 1570 313.5 1569.7 313.3 1569.4 313 1569.1 312.7 1568.8 312.4 1568.6 312.1 1568.4 311.7 1568.2 311.4 1568.1 311 1568 310.6 1567 303.6ZM1550.4 295 1550.1 294.8 1549.8 294.5 1549.6 294.1 1549.4 293.8 1549.3 293.4 1549.1 293 1549.1 292.7 1549 292.3 1549 291.9 1549 291.5 1549.1 291.1 1549.2 290.7 1549.4 290.3 1549.6 290 1549.8 289.6 1550 289.3 1550.3 289 1550.6 288.8 1550.9 288.6 1551.3 288.4 1551.7 288.2 1552 288.1 1552.4 288 1559.4 287 1559.8 287 1560.2 287 1560.5 287 1560.9 287.1 1561.2 287.2 1561.6 287.3 1568.6 290.3 1568.9 290.5 1569.3 290.7 1569.6 290.9 1569.8 291.2 1570.1 291.5 1570.3 291.8 1570.5 292.1 1570.7 292.5 1570.8 292.8 1570.9 293.2 1571 293.6 1571 294 1571 294.3 1570.9 294.7 1570.8 295.1 1570.7 295.5 1570.6 295.8 1570.4 296.2 1570.1 296.5 1569.9 296.8 1569.6 297 1569.3 297.3 1569 297.5 1562 301.5 1561.6 301.6 1561.3 301.8 1560.9 301.9 1560.6 302 1560.2 302 1559.8 302 1559.4 302 1559.1 301.9 1558.7 301.8 1558.3 301.6 1558 301.5 1557.7 301.3 1557.4 301 1550.4 295ZM1623.1 814.9 1625 817.6 1628.6 820.7 1641.1 824.5 1641.5 824.6 1641.9 824.8 1642.2 825 1642.5 825.2 1642.8 825.5 1643.1 825.8 1645.4 828.5 1657.1 829.7 1657.5 829.7 1657.8 829.8 1658.2 830 1658.6 830.1 1658.9 830.3 1659.2 830.6 1659.5 830.8 1659.8 831.1 1660 831.5 1660.2 831.8 1660.4 832.1 1660.5 832.5 1662.2 838.1 1664.9 840.4 1673.6 841 1674 841.1 1674.3 841.1 1674.7 841.2 1675.1 841.4 1675.4 841.6 1675.7 841.8 1676 842 1676.3 842.3 1676.5 842.6 1676.7 842.9 1679.7 847.7 1684.6 852 1684.9 852.3 1685.2 852.6 1685.4 852.9 1685.6 853.2 1685.7 853.6 1685.9 854 1685.9 854.4 1686 854.8 1686 855.2 1686 855.5 1685.9 855.9 1685.8 856.3 1681.7 868 1683.5 868.8 1688.5 867.3 1694.9 864.1 1695.2 863.9 1695.5 863.8 1695.9 863.7 1705.8 861.8 1715.1 859.3 1717.5 857.9 1718 851.4 1718.1 850.9 1718.2 850.5 1718.3 850 1720.7 844.8 1720.7 838.6 1719.7 831.4 1705.8 826.9 1692.9 825.6 1692.5 825.6 1692.2 825.5 1691.8 825.4 1684.5 822.3 1669 821.7 1663.9 824.5 1663.6 824.7 1663.2 824.8 1662.8 824.9 1662.4 825 1662 825 1661.6 825 1661.2 824.9 1660.8 824.8 1660.5 824.7 1660.1 824.5 1652.1 820.2 1642.8 819 1642.4 818.9 1642.1 818.8 1641.7 818.7 1641.4 818.5 1636 815.5 1624.8 813.8 1623.1 814.9ZM1579.5 1041.6 1581.7 1043.6 1587.6 1046.4 1594 1048.9 1596.5 1046.9 1596.8 1046.7 1597.1 1046.5 1597.5 1046.3 1597.9 1046.2 1598.2 1046.1 1598.6 1046.1 1607.3 1045.2 1607.7 1045.2 1608.1 1045.2 1618.3 1046.4 1621.3 1045.7 1623.2 1041.7 1623.5 1034.7 1620.4 1031.6 1620.2 1031.4 1620 1031.1 1619.8 1030.7 1619.6 1030.4 1619.5 1030.1 1617.1 1022.8 1613.3 1017.5 1610.5 1014.8 1604.1 1011.7 1601.3 1010.9 1595.6 1012.9 1589.1 1017.3 1586.1 1022.9 1586 1023.1 1582.5 1028.9 1581.3 1036.8 1581.2 1037.2 1581 1037.7 1579.5 1041.6Z"/><circle cx="371" cy="452.8" r="5"/><circle cx="367.7" cy="456.3" r="5"/><circle cx="362.8" cy="460.9" r="5"/><circle cx="357.6" cy="463.2" r="5"/><circle cx="352.8" cy="469.2" r="5"/><circle cx="353" cy="473.6" r="5"/><circle cx="346.9" cy="480.6" r="5"/><circle cx="344.5" cy="484.7" r="5"/><circle cx="343.1" cy="492.9" r="5"/><circle cx="338.6" cy="498.9" r="5"/><circle cx="339" cy="503.4" r="5"/><circle cx="336.3" cy="512.5" r="5"/><circle cx="334.1" cy="515.5" r="5"/><circle cx="330.9" cy="522.7" r="5"/><circle cx="327" cy="528.7" r="5"/><circle cx="326" cy="534" r="5"/><circle cx="324.2" cy="540.2" r="5"/><circle cx="322.9" cy="545.9" r="5"/><circle cx="324.6" cy="552.4" r="5"/><circle cx="323.4" cy="558.9" r="5"/><circle cx="321.8" cy="566.7" r="5"/><circle cx="325" cy="575" r="5"/><circle cx="321.2" cy="578.6" r="5"/><circle cx="318.8" cy="585" r="5"/><circle cx="317.3" cy="590.4" r="5"/><circle cx="318.4" cy="597.6" r="5"/><circle cx="324.7" cy="600.6" r="5"/><circle cx="328.7" cy="602.5" r="5"/><circle cx="334.9" cy="605" r="5"/><circle cx="342.1" cy="605.4" r="5"/><circle cx="345.9" cy="604.9" r="5"/><circle cx="355.3" cy="605.2" r="5"/><circle cx="361.6" cy="603.8" r="5"/><circle cx="369.2" cy="604.1" r="5"/><circle cx="375.5" cy="602.8" r="5"/><circle cx="380.7" cy="601.5" r="5"/><circle cx="387.3" cy="600.4" r="5"/><circle cx="393" cy="604.3" r="5"/><circle cx="397.4" cy="607.3" r="5"/><circle cx="402.5" cy="611.3" r="5"/><circle cx="408.7" cy="614.6" r="5"/><circle cx="415.3" cy="618.5" r="5"/><circle cx="420" cy="621.1" r="5"/><circle cx="426.3" cy="624.6" r="5"/><circle cx="430.9" cy="627.4" r="5"/><circle cx="436.5" cy="631.5" r="5"/><circle cx="443.8" cy="630.9" r="5"/><circle cx="451" cy="632.1" r="5"/><circle cx="455.4" cy="634.1" r="5"/><circle cx="463" cy="637.2" r="5"/><circle cx="466.7" cy="640.9" r="5"/><circle cx="473" cy="642.3" r="5"/><circle cx="480.1" cy="640.7" r="5"/><circle cx="483.2" cy="635.8" r="5"/><circle cx="486.7" cy="630.2" r="5"/><circle cx="489.9" cy="623.1" r="5"/><circle cx="487.5" cy="617" r="5"/><circle cx="489.8" cy="611.1" r="5"/><circle cx="487.8" cy="604" r="5"/><circle cx="486.5" cy="598.9" r="5"/><circle cx="487.7" cy="591.7" r="5"/><circle cx="483.5" cy="586.1" r="5"/><circle cx="487.7" cy="580.4" r="5"/><circle cx="493" cy="575.6" r="5"/><circle cx="495.5" cy="571.7" r="5"/><circle cx="496.2" cy="563.5" r="5"/><circle cx="498.5" cy="557.9" r="5"/><circle cx="499.5" cy="550.7" r="5"/><circle cx="499.5" cy="545.1" r="5"/><circle cx="496.3" cy="540.2" r="5"/><circle cx="491.5" cy="537.1" r="5"/><circle cx="485.7" cy="534.7" r="5"/><circle cx="480.7" cy="529.1" r="5"/><circle cx="474.2" cy="527" r="5"/><circle cx="469.4" cy="526" r="5"/><circle cx="461.7" cy="527.5" r="5"/><circle cx="456.8" cy="526.7" r="5"/><circle cx="451.8" cy="522.7" r="5"/><circle cx="448.1" cy="517.5" r="5"/><circle cx="442.3" cy="512.8" r="5"/><circle cx="439.5" cy="505.8" r="5"/><circle cx="435.4" cy="502.2" r="5"/><circle cx="432.8" cy="495.7" r="5"/><circle cx="430.7" cy="489.6" r="5"/><circle cx="429.5" cy="482.1" r="5"/><circle cx="428.6" cy="479" r="5"/><circle cx="423.8" cy="471.2" r="5"/><circle cx="420.8" cy="464.1" r="5"/><circle cx="419.6" cy="457.8" r="5"/><circle cx="416.8" cy="453.2" r="5"/><circle cx="410.9" cy="450.1" r="5"/><circle cx="404.3" cy="448.7" r="5"/><circle cx="400.1" cy="449.6" r="5"/><circle cx="390.7" cy="448.7" r="5"/><circle cx="384.4" cy="448.1" r="5"/><circle cx="378" cy="449.8" r="5"/><circle cx="355.5" cy="573" r="5"/><circle cx="359.8" cy="569.6" r="5"/><circle cx="365.6" cy="566.5" r="5"/><circle cx="372.1" cy="566.8" r="5"/><circle cx="373.3" cy="562.1" r="5"/><circle cx="373.4" cy="555.7" r="5"/><circle cx="374.4" cy="550.1" r="5"/><circle cx="377.6" cy="543.7" r="5"/><circle cx="380.6" cy="538.6" r="5"/><circle cx="379.7" cy="531.7" r="5"/><circle cx="386.6" cy="529" r="5"/><circle cx="391.7" cy="528.1" r="5"/><circle cx="397.1" cy="525.9" r="5"/><circle cx="403.3" cy="524.2" r="5"/><circle cx="406.8" cy="517.3" r="5"/><circle cx="412.3" cy="514.5" r="5"/><circle cx="417.1" cy="516.2" r="5"/><circle cx="421.1" cy="520" r="5"/><circle cx="427.9" cy="523.4" r="5"/><circle cx="428" cy="530.5" r="5"/><circle cx="428.5" cy="536.6" r="5"/><circle cx="428.7" cy="542.1" r="5"/><circle cx="430" cy="548.9" r="5"/><circle cx="438.7" cy="548.5" r="5"/><circle cx="443" cy="552.7" r="5"/><circle cx="441.6" cy="557.1" r="5"/><circle cx="434.1" cy="559.6" r="5"/><circle cx="431.1" cy="566.7" r="5"/><circle cx="424.7" cy="569.3" r="5"/><circle cx="419.9" cy="574.7" r="5"/><circle cx="417" cy="580.1" r="5"/><circle cx="411.8" cy="577.3" r="5"/><circle cx="403.2" cy="575.8" r="5"/><circle cx="398.2" cy="576.9" r="5"/><circle cx="392.4" cy="579.4" r="5"/><circle cx="390.4" cy="582.3" r="5"/><circle cx="393.4" cy="590.5" r="5"/><circle cx="393.5" cy="597.5" r="5"/><circle cx="384.1" cy="596.8" r="5"/><circle cx="377.3" cy="594.1" r="5"/><circle cx="372.6" cy="591.6" r="5"/><circle cx="372.1" cy="586.3" r="5"/><circle cx="366.2" cy="585.1" r="5"/><circle cx="359.4" cy="585.5" r="5"/><circle cx="358.6" cy="578.9" r="5"/><circle cx="387" cy="573" r="5"/><circle cx="379.3" cy="570.8" r="5"/><circle cx="375.1" cy="569.5" r="5"/><circle cx="378.4" cy="575.1" r="5"/><circle cx="410" cy="539.3" r="5"/><circle cx="393.3" cy="554" r="5"/><circle cx="385.3" cy="560" r="5"/><circle cx="422.7" cy="558.7" r="5"/><circle cx="428.3" cy="460.8" r="5"/><circle cx="948.6" cy="225" r="5"/><circle cx="942.2" cy="225.1" r="5"/><circle cx="934.8" cy="226.4" r="5"/><circle cx="927.6" cy="226.7" r="5"/><circle cx="922.2" cy="228.1" r="5"/><circle cx="915" cy="231.5" r="5"/><circle cx="910.4" cy="233.2" r="5"/><circle cx="904.1" cy="235.6" r="5"/><circle cx="896.2" cy="235.8" r="5"/><circle cx="892" cy="240.4" r="5"/><circle cx="884.9" cy="241.4" r="5"/><circle cx="879.3" cy="244.4" r="5"/><circle cx="873.4" cy="246.3" r="5"/><circle cx="866.3" cy="247.9" r="5"/><circle cx="861.5" cy="251.2" r="5"/><circle cx="854.4" cy="253.1" r="5"/><circle cx="849.4" cy="257.7" r="5"/><circle cx="844.6" cy="262.6" r="5"/><circle cx="838.6" cy="266.8" r="5"/><circle cx="835.8" cy="271.1" r="5"/><circle cx="829.6" cy="275.3" r="5"/><circle cx="825.8" cy="279.1" r="5"/><circle cx="824.5" cy="285.4" r="5"/><circle cx="819.8" cy="292.4" r="5"/><circle cx="817.4" cy="295.6" r="5"/><circle cx="812.1" cy="302.8" r="5"/><circle cx="809.3" cy="305.6" r="5"/><circle cx="806.2" cy="313.5" r="5"/><circle cx="804.9" cy="320.2" r="5"/><circle cx="802.6" cy="325.6" r="5"/><circle cx="799.2" cy="330.5" r="5"/><circle cx="794.3" cy="335.5" r="5"/><circle cx="792" cy="341.9" r="5"/><circle cx="786.6" cy="347.5" r="5"/><circle cx="781.5" cy="350.3" r="5"/><circle cx="778.7" cy="357.8" r="5"/><circle cx="774.3" cy="362" r="5"/><circle cx="768.3" cy="366.5" r="5"/><circle cx="764.9" cy="371.5" r="5"/><circle cx="761.9" cy="376.3" r="5"/><circle cx="757" cy="381.1" r="5"/><circle cx="752.3" cy="387.2" r="5"/><circle cx="751" cy="392.1" r="5"/><circle cx="748.6" cy="398" r="5"/><circle cx="744.5" cy="404.8" r="5"/><circle cx="740.7" cy="408.8" r="5"/><circle cx="735.9" cy="413.5" r="5"/><circle cx="735.1" cy="420" r="5"/><circle cx="732.6" cy="428.2" r="5"/><circle cx="730.9" cy="433" r="5"/><circle cx="728.2" cy="440.4" r="5"/><circle cx="732.4" cy="445.9" r="5"/><circle cx="733.1" cy="450.7" r="5"/><circle cx="736.9" cy="458.6" r="5"/><circle cx="741" cy="463.2" r="5"/><circle cx="743.3" cy="467.8" r="5"/><circle cx="746.7" cy="475.6" r="5"/><circle cx="749.9" cy="480.2" r="5"/><circle cx="752" cy="485.8" r="5"/><circle cx="756.4" cy="493" r="5"/><circle cx="756.7" cy="496.6" r="5"/><circle cx="762.7" cy="503.4" r="5"/><circle cx="766.4" cy="508.8" r="5"/><circle cx="768.9" cy="515.1" r="5"/><circle cx="771.7" cy="518.9" r="5"/><circle cx="779.3" cy="519.8" r="5"/><circle cx="784.9" cy="521.2" r="5"/><circle cx="792.6" cy="522.6" r="5"/><circle cx="797.2" cy="520.9" r="5"/><circle cx="804" cy="523.9" r="5"/><circle cx="811.5" cy="526" r="5"/><circle cx="818.1" cy="525.2" r="5"/><circle cx="822.8" cy="524.5" r="5"/><circle cx="828" cy="518" r="5"/><circle cx="832.1" cy="516.9" r="5"/><circle cx="839.7" cy="514" r="5"/><circle cx="846.1" cy="509.5" r="5"/><circle cx="851.4" cy="506.9" r="5"/><circle cx="858.6" cy="508.2" r="5"/><circle cx="866.7" cy="512" r="5"/><circle cx="870.1" cy="511.7" r="5"/><circle cx="876.8" cy="513.8" r="5"/><circle cx="881.9" cy="516.1" r="5"/><circle cx="889.2" cy="519.9" r="5"/><circle cx="894.9" cy="519.8" r="5"/><circle cx="901.3" cy="522.1" r="5"/><circle cx="907.5" cy="526" r="5"/><circle cx="913.5" cy="527.1" r="5"/><circle cx="919.9" cy="531.8" r="5"/><circle cx="925.2" cy="531" r="5"/><circle cx="931.7" cy="533.9" r="5"/><circle cx="938.6" cy="534.7" r="5"/><circle cx="943.5" cy="536.2" r="5"/><circle cx="950.2" cy="539.1" r="5"/><circle cx="958" cy="537.6" r="5"/><circle cx="963.3" cy="538.8" r="5"/><circle cx="970.4" cy="539.7" r="5"/><circle cx="974.6" cy="537.1" r="5"/><circle cx="982.3" cy="534" r="5"/><circle cx="987.9" cy="532" r="5"/><circle cx="993.5" cy="530.8" r="5"/><circle cx="1001.2" cy="528.5" r="5"/><circle cx="1005.2" cy="526.6" r="5"/><circle cx="1011.5" cy="524.6" r="5"/><circle cx="1017.9" cy="522.4" r="5"/><circle cx="1024.3" cy="521.4" r="5"/><circle cx="1030" cy="519.4" r="5"/><circle cx="1035.5" cy="515.5" r="5"/><circle cx="1042.7" cy="511" r="5"/><circle cx="1045.4" cy="507" r="5"/><circle cx="1051.7" cy="501.6" r="5"/><circle cx="1053.5" cy="497.2" r="5"/><circle cx="1056.7" cy="491.9" r="5"/><circle cx="1058.7" cy="484" r="5"/><circle cx="1060.2" cy="479.1" r="5"/><circle cx="1061.4" cy="472.5" r="5"/><circle cx="1061.9" cy="465.4" r="5"/><circle cx="1062.8" cy="460" r="5"/><circle cx="1062.4" cy="451.6" r="5"/><circle cx="1061.8" cy="445.7" r="5"/><circle cx="1061.6" cy="440.4" r="5"/><circle cx="1062.4" cy="432" r="5"/><circle cx="1060.8" cy="427.4" r="5"/><circle cx="1057.8" cy="418.1" r="5"/><circle cx="1063.2" cy="415.3" r="5"/><circle cx="1067.9" cy="410.8" r="5"/><circle cx="1075.4" cy="410.1" r="5"/><circle cx="1080.9" cy="411.5" r="5"/><circle cx="1088.4" cy="408" r="5"/><circle cx="1094.1" cy="410.4" r="5"/><circle cx="1101.5" cy="411.3" r="5"/><circle cx="1108.5" cy="410.2" r="5"/><circle cx="1115.9" cy="406.3" r="5"/><circle cx="1121.9" cy="408.7" r="5"/><circle cx="1127.4" cy="405" r="5"/><circle cx="1131.8" cy="402.8" r="5"/><circle cx="1139.3" cy="400.7" r="5"/><circle cx="1144.9" cy="399.1" r="5"/><circle cx="1151.4" cy="395" r="5"/><circle cx="1152.5" cy="388.4" r="5"/><circle cx="1157.2" cy="385.8" r="5"/><circle cx="1159.1" cy="377.3" r="5"/><circle cx="1157.5" cy="373" r="5"/><circle cx="1150.1" cy="367" r="5"/><circle cx="1148.4" cy="362.1" r="5"/><circle cx="1144.5" cy="357.8" r="5"/><circle cx="1139.6" cy="356.5" r="5"/><circle cx="1130.6" cy="354.7" r="5"/><circle cx="1125.7" cy="352.7" r="5"/><circle cx="1125.8" cy="347.3" r="5"/><circle cx="1129.3" cy="344.9" r="5"/><circle cx="1135.3" cy="340.2" r="5"/><circle cx="1140.6" cy="338.1" r="5"/><circle cx="1147.7" cy="334.4" r="5"/><circle cx="1151.8" cy="330.5" r="5"/><circle cx="1157.8" cy="328.9" r="5"/><circle cx="1164.5" cy="326.1" r="5"/><circle cx="1170.3" cy="323.4" r="5"/><circle cx="1178" cy="322" r="5"/><circle cx="1183.8" cy="321.5" r="5"/><circle cx="1189.7" cy="318.9" r="5"/><circle cx="1195.4" cy="315.4" r="5"/><circle cx="1195.2" cy="312.3" r="5"/><circle cx="1187.9" cy="308" r="5"/><circle cx="1183.2" cy="310.7" r="5"/><circle cx="1175.7" cy="311" r="5"/><circle cx="1171" cy="314.2" r="5"/><circle cx="1163" cy="317.3" r="5"/><circle cx="1159.5" cy="319.1" r="5"/><circle cx="1154.6" cy="324.4" r="5"/><circle cx="1147.5" cy="328.2" r="5"/><circle cx="1141.3" cy="328.3" r="5"/><circle cx="1136.6" cy="330.3" r="5"/><circle cx="1128.4" cy="333.2" r="5"/><circle cx="1123.1" cy="334.6" r="5"/><circle cx="1117.4" cy="337.6" r="5"/><circle cx="1110.6" cy="339.3" r="5"/><circle cx="1105.7" cy="342.3" r="5"/><circle cx="1097.3" cy="343.5" r="5"/><circle cx="1092.1" cy="344.7" r="5"/><circle cx="1085" cy="347.8" r="5"/><circle cx="1079.5" cy="349.7" r="5"/><circle cx="1073.3" cy="349.7" r="5"/><circle cx="1067.1" cy="352" r="5"/><circle cx="1061.3" cy="353.8" r="5"/><circle cx="1056.7" cy="356.2" r="5"/><circle cx="1048.4" cy="354.4" r="5"/><circle cx="1040.4" cy="354.9" r="5"/><circle cx="1033.6" cy="354.7" r="5"/><circle cx="1027.7" cy="353.2" r="5"/><circle cx="1028.2" cy="346.5" r="5"/><circle cx="1033.4" cy="343.1" r="5"/><circle cx="1031.8" cy="337.1" r="5"/><circle cx="1030.6" cy="330.8" r="5"/><circle cx="1031.9" cy="323.5" r="5"/><circle cx="1036" cy="319.9" r="5"/><circle cx="1040" cy="313.1" r="5"/><circle cx="1043.5" cy="309.9" r="5"/><circle cx="1049" cy="305.3" r="5"/><circle cx="1053.9" cy="300.8" r="5"/><circle cx="1060.7" cy="296.6" r="5"/><circle cx="1064.6" cy="296" r="5"/><circle cx="1072.6" cy="291.9" r="5"/><circle cx="1078.3" cy="290.5" r="5"/><circle cx="1082.8" cy="288.2" r="5"/><circle cx="1088.8" cy="283.8" r="5"/><circle cx="1086" cy="276.4" r="5"/><circle cx="1086" cy="271" r="5"/><circle cx="1088.4" cy="264.1" r="5"/><circle cx="1088.3" cy="257" r="5"/><circle cx="1086.7" cy="251.5" r="5"/><circle cx="1084.7" cy="247.9" r="5"/><circle cx="1080" cy="240.8" r="5"/><circle cx="1075.4" cy="237.1" r="5"/><circle cx="1071" cy="232" r="5"/><circle cx="1065.5" cy="227.7" r="5"/><circle cx="1058.7" cy="225.7" r="5"/><circle cx="1054.8" cy="222.6" r="5"/><circle cx="1047.8" cy="220.3" r="5"/><circle cx="1040.3" cy="221.9" r="5"/><circle cx="1035.6" cy="218.1" r="5"/><circle cx="1029" cy="218.4" r="5"/><circle cx="1024" cy="212.6" r="5"/><circle cx="1017.7" cy="211.6" r="5"/><circle cx="1011.8" cy="214" r="5"/><circle cx="1006.4" cy="216.2" r="5"/><circle cx="998.5" cy="214.9" r="5"/><circle cx="993.3" cy="216.3" r="5"/><circle cx="988.3" cy="215.9" r="5"/><circle cx="979.2" cy="217.3" r="5"/><circle cx="973.7" cy="219.2" r="5"/><circle cx="965.5" cy="219.6" r="5"/><circle cx="960.7" cy="221.7" r="5"/><circle cx="954.7" cy="224.2" r="5"/><circle cx="1095.5" cy="303.5" r="5"/><circle cx="1206.6" cy="325.7" r="5"/><circle cx="1068.4" cy="320.7" r="5"/><circle cx="1056.1" cy="338" r="5"/><circle cx="1090.6" cy="331.8" r="5"/><circle cx="1075.8" cy="293.6" r="5"/><circle cx="1088.1" cy="286.2" r="5"/><circle cx="1065.9" cy="426.8" r="5"/><circle cx="1073.3" cy="434.2" r="5"/><circle cx="1056.1" cy="318.3" r="5"/><circle cx="1065.9" cy="320.7" r="5"/><circle cx="1070.9" cy="319.5" r="5"/><circle cx="1051.1" cy="338" r="5"/><circle cx="1059.8" cy="341.7" r="5"/><circle cx="1088.1" cy="330.6" r="5"/><circle cx="1091.8" cy="338" r="5"/><circle cx="1076.4" cy="294" r="5"/><circle cx="1090" cy="287.2" r="5"/><circle cx="1040.5" cy="342.3" r="5"/><circle cx="1065.2" cy="426.4" r="5"/><circle cx="1072.7" cy="434.4" r="5"/><circle cx="757.2" cy="836.1" r="5"/><circle cx="752.9" cy="832.9" r="5"/><circle cx="746.4" cy="829.9" r="5"/><circle cx="741.7" cy="827.5" r="5"/><circle cx="733.6" cy="829.9" r="5"/><circle cx="727.3" cy="830.8" r="5"/><circle cx="721.4" cy="832.6" r="5"/><circle cx="715.4" cy="834.9" r="5"/><circle cx="709.9" cy="834.8" r="5"/><circle cx="700.8" cy="834.9" r="5"/><circle cx="695.5" cy="834.9" r="5"/><circle cx="689.8" cy="831.8" r="5"/><circle cx="685" cy="829.4" r="5"/><circle cx="678.5" cy="828.6" r="5"/><circle cx="670.3" cy="827.1" r="5"/><circle cx="664.5" cy="826.1" r="5"/><circle cx="659.1" cy="826.7" r="5"/><circle cx="651.2" cy="823.9" r="5"/><circle cx="646.4" cy="823.4" r="5"/><circle cx="638.8" cy="829" r="5"/><circle cx="635" cy="830.2" r="5"/><circle cx="625.8" cy="835.2" r="5"/><circle cx="624" cy="838.6" r="5"/><circle cx="624.6" cy="844.8" r="5"/><circle cx="619.9" cy="851.5" r="5"/><circle cx="619" cy="858.2" r="5"/><circle cx="614.6" cy="863.4" r="5"/><circle cx="610.3" cy="870.4" r="5"/><circle cx="611.5" cy="874.5" r="5"/><circle cx="610.4" cy="883.6" r="5"/><circle cx="614.8" cy="886.9" r="5"/><circle cx="614.1" cy="893.4" r="5"/><circle cx="612.5" cy="899.5" r="5"/><circle cx="613.6" cy="906.5" r="5"/><circle cx="612.3" cy="913.7" r="5"/><circle cx="611.5" cy="919.8" r="5"/><circle cx="612.8" cy="926.6" r="5"/><circle cx="613.1" cy="932.4" r="5"/><circle cx="612.6" cy="938.8" r="5"/><circle cx="612.2" cy="945.2" r="5"/><circle cx="611.2" cy="951.9" r="5"/><circle cx="611.4" cy="959.1" r="5"/><circle cx="614.6" cy="964.1" r="5"/><circle cx="620" cy="967.6" r="5"/><circle cx="624.8" cy="970.7" r="5"/><circle cx="631.7" cy="974" r="5"/><circle cx="636.7" cy="975.8" r="5"/><circle cx="642.5" cy="978.1" r="5"/><circle cx="648.8" cy="980.7" r="5"/><circle cx="653.2" cy="982.4" r="5"/><circle cx="660.2" cy="986.2" r="5"/><circle cx="667.4" cy="988.2" r="5"/><circle cx="672.9" cy="989.6" r="5"/><circle cx="678" cy="992.6" r="5"/><circle cx="685" cy="997.2" r="5"/><circle cx="690.3" cy="998.3" r="5"/><circle cx="697.2" cy="999.6" r="5"/><circle cx="702.4" cy="997.4" r="5"/><circle cx="707.2" cy="993.9" r="5"/><circle cx="713.3" cy="988.7" r="5"/><circle cx="719" cy="986.7" r="5"/><circle cx="726" cy="985.2" r="5"/><circle cx="731.6" cy="981.7" r="5"/><circle cx="736.6" cy="977.6" r="5"/><circle cx="742.1" cy="974" r="5"/><circle cx="746.6" cy="969.7" r="5"/><circle cx="754.3" cy="966.8" r="5"/><circle cx="758.2" cy="967.4" r="5"/><circle cx="767" cy="963.3" r="5"/><circle cx="773.4" cy="959.3" r="5"/><circle cx="779.1" cy="959" r="5"/><circle cx="783.3" cy="954.1" r="5"/><circle cx="790" cy="952.5" r="5"/><circle cx="794.1" cy="948.5" r="5"/><circle cx="798.9" cy="945.4" r="5"/><circle cx="806" cy="937.6" r="5"/><circle cx="809.5" cy="936.4" r="5"/><circle cx="817" cy="936.8" r="5"/><circle cx="823.2" cy="931.5" r="5"/><circle cx="829.8" cy="930.6" r="5"/><circle cx="834.4" cy="930.3" r="5"/><circle cx="842" cy="930" r="5"/><circle cx="846.3" cy="928.6" r="5"/><circle cx="854.9" cy="925.4" r="5"/><circle cx="860.6" cy="925.4" r="5"/><circle cx="867.8" cy="926.2" r="5"/><circle cx="873.2" cy="920.7" r="5"/><circle cx="879.7" cy="918.4" r="5"/><circle cx="886.3" cy="917.3" r="5"/><circle cx="890.7" cy="916" r="5"/><circle cx="899" cy="914.8" r="5"/><circle cx="904.1" cy="913.3" r="5"/><circle cx="911.8" cy="912.9" r="5"/><circle cx="917.5" cy="911.9" r="5"/><circle cx="923.1" cy="911.6" r="5"/><circle cx="929.6" cy="912.1" r="5"/><circle cx="937.8" cy="913.8" r="5"/><circle cx="942.6" cy="911.1" r="5"/><circle cx="950.7" cy="911.6" r="5"/><circle cx="956.2" cy="910.3" r="5"/><circle cx="961.2" cy="907.5" r="5"/><circle cx="957.6" cy="902" r="5"/><circle cx="953.1" cy="897.1" r="5"/><circle cx="949.2" cy="891.2" r="5"/><circle cx="944" cy="886.9" r="5"/><circle cx="937.1" cy="883.7" r="5"/><circle cx="933.3" cy="882.1" r="5"/><circle cx="928.9" cy="876" r="5"/><circle cx="923" cy="873.8" r="5"/><circle cx="918.3" cy="873.3" r="5"/><circle cx="911.6" cy="866.4" r="5"/><circle cx="907.4" cy="862.8" r="5"/><circle cx="905.3" cy="858.5" r="5"/><circle cx="899" cy="854" r="5"/><circle cx="891.2" cy="853.1" r="5"/><circle cx="886.6" cy="852.6" r="5"/><circle cx="880" cy="853.2" r="5"/><circle cx="873.6" cy="850.6" r="5"/><circle cx="867.8" cy="847.5" r="5"/><circle cx="861.4" cy="845.5" r="5"/><circle cx="857.9" cy="839.1" r="5"/><circle cx="857.6" cy="833.6" r="5"/><circle cx="857.6" cy="829.8" r="5"/><circle cx="854" cy="836" r="5"/><circle cx="849.5" cy="842.6" r="5"/><circle cx="846.1" cy="845.8" r="5"/><circle cx="838.3" cy="843.6" r="5"/><circle cx="835.1" cy="841.6" r="5"/><circle cx="837.1" cy="834.3" r="5"/><circle cx="834.4" cy="829.3" r="5"/><circle cx="829.9" cy="825.9" r="5"/><circle cx="825" cy="827.2" r="5"/><circle cx="819.8" cy="823.3" r="5"/><circle cx="812.2" cy="825.2" r="5"/><circle cx="808.9" cy="831.7" r="5"/><circle cx="803.1" cy="834" r="5"/><circle cx="796.3" cy="831.2" r="5"/><circle cx="790" cy="832.1" r="5"/><circle cx="784.6" cy="833.7" r="5"/><circle cx="777.1" cy="834.8" r="5"/><circle cx="771.3" cy="835.9" r="5"/><circle cx="765.1" cy="836.1" r="5"/><circle cx="847" cy="852" r="5"/><circle cx="849.7" cy="846.2" r="5"/><circle cx="857" cy="844.8" r="5"/><circle cx="863" cy="847.2" r="5"/><circle cx="869.3" cy="851" r="5"/><circle cx="873.6" cy="853.4" r="5"/><circle cx="879.2" cy="858.1" r="5"/><circle cx="885.4" cy="861.3" r="5"/><circle cx="887.5" cy="868.3" r="5"/><circle cx="883.2" cy="872.2" r="5"/><circle cx="875.8" cy="875.9" r="5"/><circle cx="871.1" cy="872.8" r="5"/><circle cx="863.6" cy="870.2" r="5"/><circle cx="859.1" cy="866.7" r="5"/><circle cx="852.8" cy="862.9" r="5"/><circle cx="848.2" cy="857.7" r="5"/><circle cx="770" cy="843.5" r="5"/><circle cx="775.8" cy="837.7" r="5"/><circle cx="781.3" cy="840.2" r="5"/><circle cx="787.6" cy="839.3" r="5"/><circle cx="794.2" cy="834.8" r="5"/><circle cx="799.9" cy="836.6" r="5"/><circle cx="804.2" cy="840.3" r="5"/><circle cx="806.6" cy="848.2" r="5"/><circle cx="810.1" cy="852.4" r="5"/><circle cx="815.2" cy="857.1" r="5"/><circle cx="817.5" cy="861" r="5"/><circle cx="813.6" cy="865.4" r="5"/><circle cx="807.1" cy="865" r="5"/><circle cx="800.2" cy="863.4" r="5"/><circle cx="794.4" cy="862.1" r="5"/><circle cx="788.1" cy="859.4" r="5"/><circle cx="781.5" cy="856.4" r="5"/><circle cx="775.4" cy="855.4" r="5"/><circle cx="768.8" cy="850.6" r="5"/><circle cx="789.7" cy="891.1" r="5"/><circle cx="793.8" cy="886" r="5"/><circle cx="801.5" cy="884.2" r="5"/><circle cx="805.6" cy="884.7" r="5"/><circle cx="811" cy="888.3" r="5"/><circle cx="812.2" cy="895.8" r="5"/><circle cx="812.3" cy="902.2" r="5"/><circle cx="804.5" cy="905.2" r="5"/><circle cx="797.6" cy="906.9" r="5"/><circle cx="794.9" cy="906.2" r="5"/><circle cx="789.9" cy="898.8" r="5"/><circle cx="860.4" cy="827.3" r="5"/><circle cx="868.4" cy="827.7" r="5"/><circle cx="875.7" cy="829.1" r="5"/><circle cx="881" cy="830" r="5"/><circle cx="887.3" cy="828.5" r="5"/><circle cx="891.9" cy="824.5" r="5"/><circle cx="894.6" cy="819.5" r="5"/><circle cx="897.4" cy="813.5" r="5"/><circle cx="898.8" cy="807.2" r="5"/><circle cx="899.4" cy="800.7" r="5"/><circle cx="904.4" cy="794.9" r="5"/><circle cx="909.4" cy="790.2" r="5"/><circle cx="909.8" cy="782.7" r="5"/><circle cx="905.7" cy="779.5" r="5"/><circle cx="899.7" cy="776.9" r="5"/><circle cx="892.6" cy="778.5" r="5"/><circle cx="890.2" cy="783.4" r="5"/><circle cx="885.5" cy="789.5" r="5"/><circle cx="880.6" cy="793.5" r="5"/><circle cx="875.3" cy="795.8" r="5"/><circle cx="869.6" cy="800" r="5"/><circle cx="866.4" cy="805.5" r="5"/><circle cx="867.1" cy="812.2" r="5"/><circle cx="865.8" cy="818.6" r="5"/><circle cx="863.5" cy="822.7" r="5"/><circle cx="851.9" cy="813.3" r="5"/><circle cx="850.5" cy="811" r="5"/><circle cx="679" cy="821.3" r="5"/><circle cx="881.3" cy="830" r="5"/><circle cx="865.3" cy="855.3" r="5"/><circle cx="896" cy="851" r="5"/><circle cx="884" cy="852" r="5"/><circle cx="876" cy="849" r="5"/><circle cx="676" cy="820" r="5"/><circle cx="784" cy="833" r="5"/><circle cx="800" cy="829" r="5"/><circle cx="816" cy="825" r="5"/><circle cx="836" cy="828" r="5"/><circle cx="1013.2" cy="1098" r="5"/><circle cx="1014.7" cy="1106.4" r="5"/><circle cx="1015.7" cy="1111.8" r="5"/><circle cx="1015.4" cy="1117.7" r="5"/><circle cx="1017.6" cy="1124.7" r="5"/><circle cx="1018.7" cy="1129.8" r="5"/><circle cx="1021.3" cy="1139.6" r="5"/><circle cx="1021.4" cy="1143.6" r="5"/><circle cx="1022.9" cy="1151.2" r="5"/><circle cx="1024.6" cy="1157.2" r="5"/><circle cx="1026.9" cy="1162.1" r="5"/><circle cx="1028.8" cy="1168.9" r="5"/><circle cx="1029.1" cy="1175.3" r="5"/><circle cx="1032.1" cy="1182.4" r="5"/><circle cx="1035.5" cy="1189.6" r="5"/><circle cx="1033.7" cy="1194.2" r="5"/><circle cx="1039.6" cy="1198.1" r="5"/><circle cx="1044.4" cy="1203.5" r="5"/><circle cx="1049.6" cy="1203.9" r="5"/><circle cx="1055" cy="1206.5" r="5"/><circle cx="1062.3" cy="1206.9" r="5"/><circle cx="1069.3" cy="1203.8" r="5"/><circle cx="1074.6" cy="1202.8" r="5"/><circle cx="1080.6" cy="1199.3" r="5"/><circle cx="1086.1" cy="1197.7" r="5"/><circle cx="1092.7" cy="1194.8" r="5"/><circle cx="1100.2" cy="1193.8" r="5"/><circle cx="1105.7" cy="1191.3" r="5"/><circle cx="1112" cy="1187.9" r="5"/><circle cx="1119.4" cy="1185.6" r="5"/><circle cx="1123" cy="1185.1" r="5"/><circle cx="1129.2" cy="1181.8" r="5"/><circle cx="1136.6" cy="1181.7" r="5"/><circle cx="1142.8" cy="1178.1" r="5"/><circle cx="1149.1" cy="1175.1" r="5"/><circle cx="1155.3" cy="1173.5" r="5"/><circle cx="1160.7" cy="1170.7" r="5"/><circle cx="1166.6" cy="1169.2" r="5"/><circle cx="1174" cy="1166.7" r="5"/><circle cx="1179" cy="1165.7" r="5"/><circle cx="1185.4" cy="1164" r="5"/><circle cx="1190.8" cy="1160.5" r="5"/><circle cx="1197.9" cy="1161.4" r="5"/><circle cx="1204.4" cy="1160.9" r="5"/><circle cx="1211" cy="1161.4" r="5"/><circle cx="1217" cy="1162.2" r="5"/><circle cx="1225" cy="1161.1" r="5"/><circle cx="1231.5" cy="1161.7" r="5"/><circle cx="1238" cy="1159.4" r="5"/><circle cx="1244.4" cy="1158.8" r="5"/><circle cx="1250.1" cy="1159.5" r="5"/><circle cx="1255.6" cy="1158.2" r="5"/><circle cx="1262.2" cy="1157.4" r="5"/><circle cx="1270.2" cy="1154.3" r="5"/><circle cx="1275.1" cy="1153.9" r="5"/><circle cx="1281.3" cy="1151.7" r="5"/><circle cx="1289.7" cy="1149.8" r="5"/><circle cx="1296.3" cy="1148.5" r="5"/><circle cx="1300" cy="1146.9" r="5"/><circle cx="1307.4" cy="1143.5" r="5"/><circle cx="1313.8" cy="1140.5" r="5"/><circle cx="1317.8" cy="1137.6" r="5"/><circle cx="1324.2" cy="1134.3" r="5"/><circle cx="1328.5" cy="1130.6" r="5"/><circle cx="1331.6" cy="1127.1" r="5"/><circle cx="1336.1" cy="1119.2" r="5"/><circle cx="1337.2" cy="1114.7" r="5"/><circle cx="1338.4" cy="1106.8" r="5"/><circle cx="1335.8" cy="1102.3" r="5"/><circle cx="1332.7" cy="1095.3" r="5"/><circle cx="1328.5" cy="1090.2" r="5"/><circle cx="1324.3" cy="1087" r="5"/><circle cx="1321.7" cy="1083.3" r="5"/><circle cx="1317" cy="1077.5" r="5"/><circle cx="1312.7" cy="1071.3" r="5"/><circle cx="1309.1" cy="1065.4" r="5"/><circle cx="1305.2" cy="1060.7" r="5"/><circle cx="1300.1" cy="1058.7" r="5"/><circle cx="1293.9" cy="1061.5" r="5"/><circle cx="1287.8" cy="1062.1" r="5"/><circle cx="1283.4" cy="1057.9" r="5"/><circle cx="1278.8" cy="1055.7" r="5"/><circle cx="1272.3" cy="1052.3" r="5"/><circle cx="1265.7" cy="1052.8" r="5"/><circle cx="1257.3" cy="1049.1" r="5"/><circle cx="1253" cy="1052.1" r="5"/><circle cx="1247" cy="1052.2" r="5"/><circle cx="1244.9" cy="1044.6" r="5"/><circle cx="1238.6" cy="1044.2" r="5"/><circle cx="1231.6" cy="1041.2" r="5"/><circle cx="1227.2" cy="1035.3" r="5"/><circle cx="1225.3" cy="1029.2" r="5"/><circle cx="1225.9" cy="1024.2" r="5"/><circle cx="1230.1" cy="1020.4" r="5"/><circle cx="1235.1" cy="1024.7" r="5"/><circle cx="1243.2" cy="1025.7" r="5"/><circle cx="1247.4" cy="1030" r="5"/><circle cx="1254.7" cy="1026.1" r="5"/><circle cx="1260.6" cy="1024.5" r="5"/><circle cx="1266.5" cy="1027.3" r="5"/><circle cx="1272.6" cy="1029.9" r="5"/><circle cx="1277.9" cy="1034.3" r="5"/><circle cx="1282.4" cy="1032.1" r="5"/><circle cx="1287.8" cy="1035.9" r="5"/><circle cx="1292.1" cy="1036.1" r="5"/><circle cx="1286.7" cy="1031.2" r="5"/><circle cx="1283.1" cy="1024.5" r="5"/><circle cx="1278.9" cy="1020" r="5"/><circle cx="1273.6" cy="1017.5" r="5"/><circle cx="1273.9" cy="1009.7" r="5"/><circle cx="1271.5" cy="1003.9" r="5"/><circle cx="1265.7" cy="1000.6" r="5"/><circle cx="1258.7" cy="999.5" r="5"/><circle cx="1253.4" cy="995.8" r="5"/><circle cx="1248.3" cy="991.8" r="5"/><circle cx="1240.2" cy="990.3" r="5"/><circle cx="1234.9" cy="988.5" r="5"/><circle cx="1228.2" cy="986.1" r="5"/><circle cx="1223" cy="988.2" r="5"/><circle cx="1217.5" cy="989.8" r="5"/><circle cx="1211.5" cy="993.6" r="5"/><circle cx="1206.2" cy="996.2" r="5"/><circle cx="1199.4" cy="999.1" r="5"/><circle cx="1195.3" cy="1003.7" r="5"/><circle cx="1185.8" cy="1008" r="5"/><circle cx="1183.1" cy="1009.9" r="5"/><circle cx="1176.8" cy="1010.5" r="5"/><circle cx="1170.3" cy="1008.5" r="5"/><circle cx="1165.1" cy="1005.9" r="5"/><circle cx="1159" cy="1002.6" r="5"/><circle cx="1151.2" cy="1002" r="5"/><circle cx="1144.8" cy="1001" r="5"/><circle cx="1138.9" cy="998.7" r="5"/><circle cx="1132.3" cy="998.6" r="5"/><circle cx="1127.1" cy="1003.7" r="5"/><circle cx="1122" cy="1007.4" r="5"/><circle cx="1117.6" cy="1010.5" r="5"/><circle cx="1114.9" cy="1016.2" r="5"/><circle cx="1110.8" cy="1021.8" r="5"/><circle cx="1105.5" cy="1025.8" r="5"/><circle cx="1099.5" cy="1029.6" r="5"/><circle cx="1095" cy="1035.3" r="5"/><circle cx="1089.5" cy="1039.2" r="5"/><circle cx="1085.5" cy="1042.9" r="5"/><circle cx="1079.4" cy="1046.8" r="5"/><circle cx="1076.5" cy="1051.2" r="5"/><circle cx="1069.5" cy="1055.6" r="5"/><circle cx="1065.6" cy="1061.2" r="5"/><circle cx="1060.3" cy="1064.5" r="5"/><circle cx="1057" cy="1069.6" r="5"/><circle cx="1052.3" cy="1072.8" r="5"/><circle cx="1044.8" cy="1078.2" r="5"/><circle cx="1041.7" cy="1080.6" r="5"/><circle cx="1036.3" cy="1085.1" r="5"/><circle cx="1029.1" cy="1088.8" r="5"/><circle cx="1023.3" cy="1091.6" r="5"/><circle cx="1019.4" cy="1095.2" r="5"/><circle cx="1055.9" cy="1096.7" r="5"/><circle cx="1057.2" cy="1091" r="5"/><circle cx="1065.9" cy="1090.9" r="5"/><circle cx="1070.7" cy="1088.7" r="5"/><circle cx="1077.7" cy="1083.7" r="5"/><circle cx="1082.2" cy="1080.9" r="5"/><circle cx="1089" cy="1077.2" r="5"/><circle cx="1095.1" cy="1076.2" r="5"/><circle cx="1100.5" cy="1072.5" r="5"/><circle cx="1104.5" cy="1068.1" r="5"/><circle cx="1106" cy="1060.5" r="5"/><circle cx="1111.8" cy="1060.5" r="5"/><circle cx="1118.7" cy="1059.9" r="5"/><circle cx="1122.7" cy="1062.5" r="5"/><circle cx="1122.1" cy="1068.2" r="5"/><circle cx="1119.2" cy="1073.9" r="5"/><circle cx="1120" cy="1081.3" r="5"/><circle cx="1125.8" cy="1081" r="5"/><circle cx="1131.6" cy="1076.1" r="5"/><circle cx="1137.4" cy="1075.1" r="5"/><circle cx="1145.8" cy="1079.5" r="5"/><circle cx="1147.4" cy="1083.7" r="5"/><circle cx="1149.1" cy="1089.1" r="5"/><circle cx="1154.4" cy="1094.4" r="5"/><circle cx="1160.4" cy="1097" r="5"/><circle cx="1168.4" cy="1097.9" r="5"/><circle cx="1174.8" cy="1098.1" r="5"/><circle cx="1179.5" cy="1100.9" r="5"/><circle cx="1184.9" cy="1104.7" r="5"/><circle cx="1189.5" cy="1109.7" r="5"/><circle cx="1192.3" cy="1117.5" r="5"/><circle cx="1192.8" cy="1122.9" r="5"/><circle cx="1195.9" cy="1128.4" r="5"/><circle cx="1197.1" cy="1134.8" r="5"/><circle cx="1198.1" cy="1142.5" r="5"/><circle cx="1191.9" cy="1145.6" r="5"/><circle cx="1187.6" cy="1147.5" r="5"/><circle cx="1179.2" cy="1149.5" r="5"/><circle cx="1173.8" cy="1146.4" r="5"/><circle cx="1167" cy="1147.9" r="5"/><circle cx="1162" cy="1152.4" r="5"/><circle cx="1154.9" cy="1151.2" r="5"/><circle cx="1151" cy="1151.8" r="5"/><circle cx="1144.2" cy="1152.6" r="5"/><circle cx="1140.2" cy="1157.3" r="5"/><circle cx="1133.9" cy="1154.4" r="5"/><circle cx="1126" cy="1155" r="5"/><circle cx="1119.7" cy="1154.9" r="5"/><circle cx="1115.7" cy="1156.6" r="5"/><circle cx="1108.7" cy="1159.3" r="5"/><circle cx="1104.6" cy="1162.8" r="5"/><circle cx="1097.1" cy="1161.7" r="5"/><circle cx="1093.7" cy="1157.4" r="5"/><circle cx="1089.6" cy="1151" r="5"/><circle cx="1085.2" cy="1145.6" r="5"/><circle cx="1083.2" cy="1140.8" r="5"/><circle cx="1080.8" cy="1134.8" r="5"/><circle cx="1076.9" cy="1129.1" r="5"/><circle cx="1072.1" cy="1122.6" r="5"/><circle cx="1068" cy="1118.1" r="5"/><circle cx="1063.5" cy="1113.7" r="5"/><circle cx="1059.3" cy="1108.7" r="5"/><circle cx="1058.4" cy="1103" r="5"/><circle cx="1102.8" cy="1085.9" r="5"/><circle cx="1105.7" cy="1089.6" r="5"/><circle cx="1100.6" cy="1095.5" r="5"/><circle cx="1121.9" cy="1098.4" r="5"/><circle cx="1124.1" cy="1094.7" r="5"/><circle cx="1138" cy="1094.7" r="5"/><circle cx="1139.5" cy="1099.9" r="5"/><circle cx="1147.6" cy="1101.3" r="5"/><circle cx="1154.2" cy="1107.9" r="5"/><circle cx="1155.6" cy="1114.5" r="5"/><circle cx="1165.2" cy="1116" r="5"/><circle cx="1174.7" cy="1102.8" r="5"/><circle cx="1187.9" cy="1114.5" r="5"/><circle cx="1097.7" cy="1110.1" r="5"/><circle cx="1105.7" cy="1114.5" r="5"/><circle cx="1113.8" cy="1119" r="5"/><circle cx="1121.2" cy="1124.1" r="5"/><circle cx="1133.6" cy="1122.6" r="5"/><circle cx="1147.6" cy="1121.9" r="5"/><circle cx="1157.1" cy="1124.8" r="5"/><circle cx="1163" cy="1126.3" r="5"/><circle cx="1170.3" cy="1125.6" r="5"/><circle cx="1182" cy="1127.8" r="5"/><circle cx="1157.1" cy="1132.9" r="5"/><circle cx="1141.7" cy="1132.2" r="5"/><circle cx="1138" cy="1138" r="5"/><circle cx="1144.6" cy="1138" r="5"/><circle cx="1124.1" cy="1142.4" r="5"/><circle cx="1102.1" cy="1132.2" r="5"/><circle cx="1107.2" cy="1138" r="5"/><circle cx="1111.6" cy="1144.6" r="5"/><circle cx="1088.1" cy="1125.6" r="5"/><circle cx="1174.7" cy="1141.7" r="5"/><circle cx="1185.7" cy="1145.4" r="5"/><circle cx="1153.4" cy="1147.6" r="5"/><circle cx="1099.9" cy="1144.6" r="5"/><circle cx="1091.8" cy="1149" r="5"/><circle cx="1069.8" cy="1114.5" r="5"/><circle cx="1063.2" cy="1105.7" r="5"/><circle cx="1068.3" cy="1094" r="5"/><circle cx="1079.3" cy="1089.6" r="5"/><circle cx="1085.2" cy="1080.8" r="5"/><circle cx="1077.9" cy="1075.7" r="5"/><circle cx="1100" cy="1085.2" r="5"/><circle cx="1103.6" cy="1087.6" r="5"/><circle cx="1100.6" cy="1095.4" r="5"/><circle cx="1122.2" cy="1097.8" r="5"/><circle cx="1118" cy="1100.8" r="5"/><circle cx="1136" cy="1096" r="5"/><circle cx="1097" cy="1110.4" r="5"/><circle cx="1106" cy="1114" r="5"/><circle cx="1113.8" cy="1117" r="5"/><circle cx="1133" cy="1118.8" r="5"/><circle cx="1068.8" cy="1114" r="5"/><circle cx="1068.8" cy="1094.8" r="5"/><circle cx="1080.8" cy="1090" r="5"/><circle cx="1085.6" cy="1082.8" r="5"/><circle cx="1261" cy="1036.2" r="5"/><circle cx="1264.5" cy="1038.5" r="5"/><circle cx="1267.6" cy="1040.5" r="5"/><circle cx="1272.4" cy="1042.9" r="5"/><circle cx="1277.1" cy="1045.2" r="5"/><circle cx="1253.3" cy="1045.2" r="5"/><circle cx="1174.8" cy="740.2" r="5"/><circle cx="1173.2" cy="748.1" r="5"/><circle cx="1177.2" cy="754.5" r="5"/><circle cx="1179.6" cy="760" r="5"/><circle cx="1183.1" cy="765.6" r="5"/><circle cx="1186.4" cy="769.8" r="5"/><circle cx="1190.5" cy="776.7" r="5"/><circle cx="1196.3" cy="777.7" r="5"/><circle cx="1203.2" cy="779.8" r="5"/><circle cx="1209.4" cy="781.3" r="5"/><circle cx="1215.8" cy="782.4" r="5"/><circle cx="1220.9" cy="783.6" r="5"/><circle cx="1229" cy="785.3" r="5"/><circle cx="1235.2" cy="786.5" r="5"/><circle cx="1239.1" cy="791.3" r="5"/><circle cx="1245.5" cy="795.1" r="5"/><circle cx="1252.5" cy="795.2" r="5"/><circle cx="1258.3" cy="798.9" r="5"/><circle cx="1263.4" cy="800.4" r="5"/><circle cx="1270.4" cy="802.5" r="5"/><circle cx="1276.1" cy="802.9" r="5"/><circle cx="1284.1" cy="803.5" r="5"/><circle cx="1290.9" cy="803.4" r="5"/><circle cx="1297.3" cy="800.8" r="5"/><circle cx="1303.9" cy="801.3" r="5"/><circle cx="1309.3" cy="801.7" r="5"/><circle cx="1316.7" cy="801.6" r="5"/><circle cx="1323.7" cy="801.3" r="5"/><circle cx="1328.2" cy="801.8" r="5"/><circle cx="1334.8" cy="798.4" r="5"/><circle cx="1341.6" cy="796.1" r="5"/><circle cx="1347.6" cy="793.8" r="5"/><circle cx="1351.6" cy="798.6" r="5"/><circle cx="1356" cy="805.2" r="5"/><circle cx="1359.6" cy="809" r="5"/><circle cx="1366.3" cy="813.5" r="5"/><circle cx="1373.2" cy="814.6" r="5"/><circle cx="1378.5" cy="810.4" r="5"/><circle cx="1380.7" cy="808.1" r="5"/><circle cx="1387.8" cy="806.9" r="5"/><circle cx="1392.7" cy="801.6" r="5"/><circle cx="1392.3" cy="796.2" r="5"/><circle cx="1390.9" cy="790.9" r="5"/><circle cx="1387.5" cy="782.8" r="5"/><circle cx="1389.6" cy="778.4" r="5"/><circle cx="1388.1" cy="771.6" r="5"/><circle cx="1388.8" cy="764.6" r="5"/><circle cx="1388" cy="757.8" r="5"/><circle cx="1387.5" cy="750.8" r="5"/><circle cx="1387" cy="744.9" r="5"/><circle cx="1384.5" cy="739" r="5"/><circle cx="1384.2" cy="732.1" r="5"/><circle cx="1379.5" cy="725" r="5"/><circle cx="1378.9" cy="719.5" r="5"/><circle cx="1375.8" cy="712.2" r="5"/><circle cx="1375.5" cy="706.3" r="5"/><circle cx="1372.4" cy="700.8" r="5"/><circle cx="1372.3" cy="695.1" r="5"/><circle cx="1368.9" cy="688.1" r="5"/><circle cx="1366.4" cy="682.3" r="5"/><circle cx="1362.6" cy="676.4" r="5"/><circle cx="1359.3" cy="670.2" r="5"/><circle cx="1358.1" cy="663.9" r="5"/><circle cx="1355.2" cy="658.5" r="5"/><circle cx="1354" cy="653.6" r="5"/><circle cx="1350.9" cy="647.2" r="5"/><circle cx="1346.8" cy="640.1" r="5"/><circle cx="1344" cy="636.7" r="5"/><circle cx="1337" cy="632.4" r="5"/><circle cx="1330.4" cy="630" r="5"/><circle cx="1325" cy="630.4" r="5"/><circle cx="1322.7" cy="633.7" r="5"/><circle cx="1317.2" cy="639.4" r="5"/><circle cx="1314.4" cy="641.6" r="5"/><circle cx="1304.4" cy="649.1" r="5"/><circle cx="1301.4" cy="650.8" r="5"/><circle cx="1296.3" cy="655.6" r="5"/><circle cx="1290.8" cy="657.8" r="5"/><circle cx="1285" cy="659.7" r="5"/><circle cx="1278.2" cy="660.4" r="5"/><circle cx="1269.6" cy="664.3" r="5"/><circle cx="1265.6" cy="662.6" r="5"/><circle cx="1258.4" cy="666.1" r="5"/><circle cx="1253.9" cy="670" r="5"/><circle cx="1245.9" cy="671.9" r="5"/><circle cx="1240.8" cy="674.1" r="5"/><circle cx="1234.8" cy="675.9" r="5"/><circle cx="1228.5" cy="678.8" r="5"/><circle cx="1224.7" cy="683.3" r="5"/><circle cx="1217.5" cy="685.2" r="5"/><circle cx="1212.1" cy="690.1" r="5"/><circle cx="1206.6" cy="692.5" r="5"/><circle cx="1202.9" cy="697.5" r="5"/><circle cx="1197.4" cy="703.7" r="5"/><circle cx="1196.2" cy="706.5" r="5"/><circle cx="1190" cy="713.6" r="5"/><circle cx="1187.8" cy="719.3" r="5"/><circle cx="1182.7" cy="725.3" r="5"/><circle cx="1179.4" cy="731.7" r="5"/><circle cx="1177" cy="735.6" r="5"/><circle cx="1313.9" cy="659.4" r="5"/><circle cx="1309.4" cy="655.6" r="5"/><circle cx="1317" cy="652.4" r="5"/><circle cx="1323.5" cy="648.1" r="5"/><circle cx="1329.4" cy="647.4" r="5"/><circle cx="1336.4" cy="648.4" r="5"/><circle cx="1343.1" cy="650.9" r="5"/><circle cx="1349.2" cy="655" r="5"/><circle cx="1348.1" cy="660.9" r="5"/><circle cx="1340.1" cy="662" r="5"/><circle cx="1334.4" cy="663.2" r="5"/><circle cx="1325.4" cy="662.3" r="5"/><circle cx="1319" cy="660.3" r="5"/><circle cx="1197.7" cy="708.5" r="5"/><circle cx="1201.3" cy="702.8" r="5"/><circle cx="1207.3" cy="703.6" r="5"/><circle cx="1214.6" cy="705.8" r="5"/><circle cx="1217.2" cy="710.5" r="5"/><circle cx="1219.1" cy="718.4" r="5"/><circle cx="1214.5" cy="722.6" r="5"/><circle cx="1207.6" cy="723.4" r="5"/><circle cx="1202.6" cy="722.2" r="5"/><circle cx="1198.5" cy="714.8" r="5"/><circle cx="1488.6" cy="311.1" r="5"/><circle cx="1491" cy="318.7" r="5"/><circle cx="1493.3" cy="323.9" r="5"/><circle cx="1498.6" cy="327.5" r="5"/><circle cx="1503.8" cy="332.8" r="5"/><circle cx="1507.5" cy="336.7" r="5"/><circle cx="1513" cy="341.5" r="5"/><circle cx="1516.7" cy="345.1" r="5"/><circle cx="1521.8" cy="350.5" r="5"/><circle cx="1525.3" cy="356.7" r="5"/><circle cx="1526.3" cy="362.1" r="5"/><circle cx="1529.8" cy="368.9" r="5"/><circle cx="1532" cy="373.9" r="5"/><circle cx="1534.4" cy="380.9" r="5"/><circle cx="1536.1" cy="387.6" r="5"/><circle cx="1532.8" cy="393.3" r="5"/><circle cx="1528.2" cy="397" r="5"/><circle cx="1525.3" cy="401.8" r="5"/><circle cx="1526.4" cy="409.8" r="5"/><circle cx="1533.2" cy="411.9" r="5"/><circle cx="1539.4" cy="413.2" r="5"/><circle cx="1545.6" cy="413.5" r="5"/><circle cx="1549.9" cy="420.3" r="5"/><circle cx="1549.6" cy="427" r="5"/><circle cx="1553.6" cy="431.3" r="5"/><circle cx="1553.8" cy="437.9" r="5"/><circle cx="1554.8" cy="446" r="5"/><circle cx="1554.9" cy="450.7" r="5"/><circle cx="1555.3" cy="458" r="5"/><circle cx="1555.5" cy="464.6" r="5"/><circle cx="1555.5" cy="472" r="5"/><circle cx="1555.8" cy="477.6" r="5"/><circle cx="1555.7" cy="486" r="5"/><circle cx="1556.4" cy="490" r="5"/><circle cx="1554.4" cy="495.9" r="5"/><circle cx="1552.8" cy="502" r="5"/><circle cx="1553.4" cy="510.8" r="5"/><circle cx="1551.3" cy="515.8" r="5"/><circle cx="1549.8" cy="523.1" r="5"/><circle cx="1546.4" cy="528.1" r="5"/><circle cx="1543.7" cy="534.2" r="5"/><circle cx="1539" cy="538.5" r="5"/><circle cx="1534.1" cy="544.6" r="5"/><circle cx="1531.9" cy="547.8" r="5"/><circle cx="1536.9" cy="553.9" r="5"/><circle cx="1543" cy="557.3" r="5"/><circle cx="1546.7" cy="560.3" r="5"/><circle cx="1553.5" cy="565.1" r="5"/><circle cx="1558.5" cy="567.7" r="5"/><circle cx="1563.4" cy="569.5" r="5"/><circle cx="1570.5" cy="575.1" r="5"/><circle cx="1575.6" cy="578.6" r="5"/><circle cx="1581.3" cy="580.2" r="5"/><circle cx="1587" cy="585.1" r="5"/><circle cx="1592.8" cy="586.9" r="5"/><circle cx="1599.9" cy="589.7" r="5"/><circle cx="1604.9" cy="592.4" r="5"/><circle cx="1611.3" cy="592.6" r="5"/><circle cx="1617" cy="592.8" r="5"/><circle cx="1625.2" cy="593.8" r="5"/><circle cx="1630.3" cy="593.5" r="5"/><circle cx="1636.5" cy="590.4" r="5"/><circle cx="1643.7" cy="588.2" r="5"/><circle cx="1650.2" cy="587.5" r="5"/><circle cx="1656" cy="584.3" r="5"/><circle cx="1660.4" cy="581.1" r="5"/><circle cx="1665.9" cy="578.5" r="5"/><circle cx="1671.6" cy="573.7" r="5"/><circle cx="1678.8" cy="571.7" r="5"/><circle cx="1682.9" cy="568.5" r="5"/><circle cx="1686" cy="563.4" r="5"/><circle cx="1688" cy="558.4" r="5"/><circle cx="1689.5" cy="550.6" r="5"/><circle cx="1689.8" cy="544.6" r="5"/><circle cx="1689.2" cy="539.5" r="5"/><circle cx="1688.4" cy="532.8" r="5"/><circle cx="1688.4" cy="526.3" r="5"/><circle cx="1683" cy="522.3" r="5"/><circle cx="1678.9" cy="518.1" r="5"/><circle cx="1672.1" cy="513.9" r="5"/><circle cx="1671.7" cy="507.6" r="5"/><circle cx="1669.1" cy="500" r="5"/><circle cx="1666.9" cy="494.9" r="5"/><circle cx="1665.5" cy="487.6" r="5"/><circle cx="1663.6" cy="481.6" r="5"/><circle cx="1659.5" cy="474.9" r="5"/><circle cx="1658" cy="471.1" r="5"/><circle cx="1654.5" cy="463" r="5"/><circle cx="1655.3" cy="457.3" r="5"/><circle cx="1652.2" cy="451.6" r="5"/><circle cx="1651.5" cy="445.3" r="5"/><circle cx="1652.8" cy="438.7" r="5"/><circle cx="1650" cy="433.1" r="5"/><circle cx="1651.6" cy="425.6" r="5"/><circle cx="1651.8" cy="419.9" r="5"/><circle cx="1650" cy="412.8" r="5"/><circle cx="1649.7" cy="405.7" r="5"/><circle cx="1647.9" cy="398.7" r="5"/><circle cx="1645.9" cy="392.6" r="5"/><circle cx="1645.4" cy="388" r="5"/><circle cx="1643.6" cy="380.6" r="5"/><circle cx="1643.5" cy="374" r="5"/><circle cx="1642.9" cy="367.2" r="5"/><circle cx="1639.7" cy="362.3" r="5"/><circle cx="1638.7" cy="356.6" r="5"/><circle cx="1636.2" cy="348.4" r="5"/><circle cx="1633" cy="344.3" r="5"/><circle cx="1627.9" cy="339.3" r="5"/><circle cx="1625.1" cy="333.8" r="5"/><circle cx="1622.8" cy="328" r="5"/><circle cx="1619.2" cy="322" r="5"/><circle cx="1616.9" cy="316" r="5"/><circle cx="1613.3" cy="307.4" r="5"/><circle cx="1612.1" cy="304.3" r="5"/><circle cx="1608" cy="298.2" r="5"/><circle cx="1604.3" cy="293.3" r="5"/><circle cx="1598.7" cy="290.1" r="5"/><circle cx="1593.5" cy="285.9" r="5"/><circle cx="1589.5" cy="281.9" r="5"/><circle cx="1581.6" cy="281.2" r="5"/><circle cx="1575.3" cy="279.9" r="5"/><circle cx="1570.3" cy="279.8" r="5"/><circle cx="1563" cy="277.7" r="5"/><circle cx="1557.1" cy="275.6" r="5"/><circle cx="1551.4" cy="275" r="5"/><circle cx="1544.3" cy="273.5" r="5"/><circle cx="1539.9" cy="272.9" r="5"/><circle cx="1531.1" cy="276.2" r="5"/><circle cx="1525.2" cy="278.3" r="5"/><circle cx="1520.8" cy="280.2" r="5"/><circle cx="1514.4" cy="283.6" r="5"/><circle cx="1509.1" cy="289.1" r="5"/><circle cx="1502.9" cy="291.7" r="5"/><circle cx="1498.1" cy="295.4" r="5"/><circle cx="1492.2" cy="298.2" r="5"/><circle cx="1491.9" cy="306.2" r="5"/><circle cx="1630.2" cy="471.8" r="5"/><circle cx="1634.3" cy="469.1" r="5"/><circle cx="1640.9" cy="468.1" r="5"/><circle cx="1648.5" cy="473.9" r="5"/><circle cx="1648" cy="478" r="5"/><circle cx="1650.1" cy="485.7" r="5"/><circle cx="1646.8" cy="492.3" r="5"/><circle cx="1641.8" cy="496.6" r="5"/><circle cx="1634.6" cy="491.4" r="5"/><circle cx="1631.4" cy="485.9" r="5"/><circle cx="1630.3" cy="480.3" r="5"/><circle cx="1614.4" cy="439.9" r="5"/><circle cx="1614.8" cy="433.7" r="5"/><circle cx="1623.2" cy="435.7" r="5"/><circle cx="1629.6" cy="436.1" r="5"/><circle cx="1633.5" cy="438.7" r="5"/><circle cx="1639.9" cy="443.4" r="5"/><circle cx="1637.2" cy="449.7" r="5"/><circle cx="1634.4" cy="451.1" r="5"/><circle cx="1627" cy="452.6" r="5"/><circle cx="1621.1" cy="449.1" r="5"/><circle cx="1615.3" cy="446.5" r="5"/><circle cx="1600.4" cy="401.2" r="5"/><circle cx="1600.3" cy="395.9" r="5"/><circle cx="1608.5" cy="394.1" r="5"/><circle cx="1614.2" cy="395.7" r="5"/><circle cx="1621.4" cy="397.6" r="5"/><circle cx="1625.8" cy="401.3" r="5"/><circle cx="1620.9" cy="406.2" r="5"/><circle cx="1613.9" cy="406.6" r="5"/><circle cx="1607.9" cy="404.9" r="5"/><circle cx="1583.7" cy="470.7" r="5"/><circle cx="1586.6" cy="464.6" r="5"/><circle cx="1593.3" cy="467.4" r="5"/><circle cx="1597.9" cy="472.2" r="5"/><circle cx="1597" cy="478.4" r="5"/><circle cx="1596.8" cy="485.8" r="5"/><circle cx="1591.9" cy="488.7" r="5"/><circle cx="1586.8" cy="490" r="5"/><circle cx="1584.9" cy="484.5" r="5"/><circle cx="1583.5" cy="477.8" r="5"/><circle cx="1566.3" cy="439.3" r="5"/><circle cx="1571" cy="435.4" r="5"/><circle cx="1576.2" cy="432.9" r="5"/><circle cx="1582.9" cy="432.3" r="5"/><circle cx="1588.2" cy="435.2" r="5"/><circle cx="1594.1" cy="439.6" r="5"/><circle cx="1592.3" cy="448.2" r="5"/><circle cx="1591.4" cy="453.8" r="5"/><circle cx="1586.7" cy="457.2" r="5"/><circle cx="1580.8" cy="459.7" r="5"/><circle cx="1574.2" cy="457.2" r="5"/><circle cx="1569.2" cy="454.1" r="5"/><circle cx="1566.2" cy="446.8" r="5"/><circle cx="1566" cy="303.6" r="5"/><circle cx="1571.9" cy="301.3" r="5"/><circle cx="1577.7" cy="295.5" r="5"/><circle cx="1582.3" cy="302.2" r="5"/><circle cx="1585.6" cy="310.1" r="5"/><circle cx="1580.5" cy="315.5" r="5"/><circle cx="1574.3" cy="313.7" r="5"/><circle cx="1567" cy="310.3" r="5"/><circle cx="1551.2" cy="296.1" r="5"/><circle cx="1550.1" cy="288.6" r="5"/><circle cx="1558.4" cy="288.4" r="5"/><circle cx="1563.9" cy="289.1" r="5"/><circle cx="1571.2" cy="291.8" r="5"/><circle cx="1568" cy="298" r="5"/><circle cx="1561.8" cy="302.5" r="5"/><circle cx="1555.3" cy="298.1" r="5"/><circle cx="1580.4" cy="446.3" r="5"/><circle cx="1637" cy="480" r="5"/><circle cx="1623.9" cy="815.9" r="5"/><circle cx="1627.5" cy="818.6" r="5"/><circle cx="1632" cy="824.6" r="5"/><circle cx="1640.7" cy="823.7" r="5"/><circle cx="1646.2" cy="829" r="5"/><circle cx="1651" cy="829.5" r="5"/><circle cx="1657" cy="829.5" r="5"/><circle cx="1661.8" cy="834.8" r="5"/><circle cx="1665.2" cy="838.9" r="5"/><circle cx="1669.9" cy="841.4" r="5"/><circle cx="1675.6" cy="843.5" r="5"/><circle cx="1680.8" cy="848.7" r="5"/><circle cx="1684.7" cy="853.2" r="5"/><circle cx="1685.7" cy="858.1" r="5"/><circle cx="1683.6" cy="867" r="5"/><circle cx="1684.8" cy="868.6" r="5"/><circle cx="1691.4" cy="867.7" r="5"/><circle cx="1695.5" cy="863.2" r="5"/><circle cx="1703.3" cy="861.5" r="5"/><circle cx="1711.5" cy="861.1" r="5"/><circle cx="1716.4" cy="858" r="5"/><circle cx="1718.7" cy="853.2" r="5"/><circle cx="1720.6" cy="846.4" r="5"/><circle cx="1720.7" cy="841" r="5"/><circle cx="1720.3" cy="834.9" r="5"/><circle cx="1717.1" cy="830.2" r="5"/><circle cx="1709.4" cy="828.9" r="5"/><circle cx="1704.8" cy="827.4" r="5"/><circle cx="1698.6" cy="826.2" r="5"/><circle cx="1690" cy="823.9" r="5"/><circle cx="1685.7" cy="824.9" r="5"/><circle cx="1679.5" cy="821.3" r="5"/><circle cx="1672.3" cy="820.9" r="5"/><circle cx="1666.4" cy="823.5" r="5"/><circle cx="1659.9" cy="825.2" r="5"/><circle cx="1654.3" cy="822.1" r="5"/><circle cx="1648.2" cy="820.8" r="5"/><circle cx="1642.4" cy="818.6" r="5"/><circle cx="1635.4" cy="815.3" r="5"/><circle cx="1630.2" cy="815.3" r="5"/><circle cx="1579.8" cy="1042.6" r="5"/><circle cx="1584.1" cy="1044.6" r="5"/><circle cx="1590.9" cy="1048.5" r="5"/><circle cx="1596.8" cy="1045.9" r="5"/><circle cx="1603.3" cy="1046.5" r="5"/><circle cx="1611.3" cy="1046.9" r="5"/><circle cx="1616.2" cy="1047.3" r="5"/><circle cx="1621.6" cy="1046" r="5"/><circle cx="1624.5" cy="1038.8" r="5"/><circle cx="1622.1" cy="1031.7" r="5"/><circle cx="1620.6" cy="1024.9" r="5"/><circle cx="1616.1" cy="1022.2" r="5"/><circle cx="1611.5" cy="1017" r="5"/><circle cx="1607" cy="1012" r="5"/><circle cx="1600.2" cy="1012.4" r="5"/><circle cx="1594" cy="1013.3" r="5"/><circle cx="1589.2" cy="1016.7" r="5"/><circle cx="1585.8" cy="1024.1" r="5"/><circle cx="1581.6" cy="1029.9" r="5"/><circle cx="1581.2" cy="1034.4" r="5"/><circle cx="310.9" cy="736" r="5"/><circle cx="309.5" cy="741" r="5"/><circle cx="301.8" cy="746" r="5"/><circle cx="306.5" cy="748" r="5"/><circle cx="309.8" cy="745.5" r="5"/><circle cx="1303.9" cy="417.6" r="5"/><circle cx="1305.3" cy="421.8" r="5"/><circle cx="1315" cy="416.2" r="5"/><circle cx="1323.2" cy="419" r="5"/><circle cx="1368.8" cy="452.1" r="5"/><circle cx="1375.7" cy="445.2" r="5"/><circle cx="1389.5" cy="443.9" r="5"/><circle cx="1390.9" cy="427.3" r="5"/><circle cx="1399.2" cy="423.1" r="5"/><circle cx="1406.1" cy="424.5" r="5"/><circle cx="1415.8" cy="431.4" r="5"/><circle cx="1410.2" cy="435.6" r="5"/><circle cx="1396.4" cy="439.7" r="5"/><circle cx="1382.6" cy="446.6" r="5"/><circle cx="1426.8" cy="438.3" r="5"/><circle cx="1431" cy="437" r="5"/><circle cx="1437.9" cy="441.1" r="5"/><circle cx="1444.8" cy="443.9" r="5"/><circle cx="1451.7" cy="443.9" r="5"/><circle cx="1451.7" cy="448" r="5"/><circle cx="1462.7" cy="446.6" r="5"/><circle cx="1465.5" cy="454.9" r="5"/><circle cx="1472.4" cy="459.1" r="5"/><circle cx="1477.9" cy="450.8" r="5"/><circle cx="1479.3" cy="461.8" r="5"/><circle cx="1486.2" cy="467.3" r="5"/><circle cx="1458.6" cy="452.1" r="5"/><circle cx="1442" cy="442.5" r="5"/><circle cx="1228" cy="493.6" r="5"/><circle cx="1239" cy="495" r="5"/><circle cx="1243.1" cy="496.3" r="5"/><circle cx="1234.9" cy="503.2" r="5"/><circle cx="1248.7" cy="506" r="5"/><circle cx="1232.1" cy="499.1" r="5"/><circle cx="1240.4" cy="500.5" r="5"/><circle cx="1259.7" cy="497.7" r="5"/><circle cx="1261.1" cy="500.5" r="5"/><circle cx="1263.9" cy="511.5" r="5"/><circle cx="1276.3" cy="515.7" r="5"/><circle cx="1274.9" cy="525.3" r="5"/><circle cx="1291.5" cy="528.1" r="5"/><circle cx="1287.3" cy="518.4" r="5"/></g>
<g fill="#b73779"><circle cx="876.9" cy="803.2" r="5"/><circle cx="889.7" cy="804.8" r="5"/><circle cx="902.7" cy="791.3" r="5"/><circle cx="890.2" cy="845.2" r="5"/><circle cx="1176.2" cy="1124.8" r="5"/><circle cx="408.3" cy="453.3" r="5"/><circle cx="381.7" cy="458.3" r="5"/><circle cx="360" cy="465" r="5"/><circle cx="378.3" cy="470" r="5"/><circle cx="361.7" cy="475" r="5"/><circle cx="403.3" cy="478.3" r="5"/><circle cx="381.7" cy="483.3" r="5"/><circle cx="411.7" cy="490.8" r="5"/><circle cx="358.3" cy="496.7" r="5"/><circle cx="343.3" cy="511.7" r="5"/><circle cx="365" cy="515" r="5"/><circle cx="380" cy="520" r="5"/><circle cx="348.3" cy="527.5" r="5"/><circle cx="330" cy="530.8" r="5"/><circle cx="336.7" cy="535.8" r="5"/><circle cx="434.2" cy="521.7" r="5"/><circle cx="467.5" cy="530.8" r="5"/><circle cx="487.5" cy="539.2" r="5"/><circle cx="444.2" cy="548.3" r="5"/><circle cx="456.7" cy="549.2" r="5"/><circle cx="473.3" cy="553.3" r="5"/><circle cx="451.7" cy="560.8" r="5"/><circle cx="475" cy="560" r="5"/><circle cx="485.8" cy="560.8" r="5"/><circle cx="491.7" cy="574.2" r="5"/><circle cx="325" cy="568.3" r="5"/><circle cx="335" cy="568.3" r="5"/><circle cx="325" cy="585" r="5"/><circle cx="318.3" cy="595" r="5"/><circle cx="340" cy="592.5" r="5"/><circle cx="357.5" cy="590" r="5"/><circle cx="363.3" cy="596.7" r="5"/><circle cx="376.7" cy="592.5" r="5"/><circle cx="343.3" cy="601.7" r="5"/><circle cx="336.7" cy="606.7" r="5"/><circle cx="396.7" cy="593.3" r="5"/><circle cx="398.3" cy="609.2" r="5"/><circle cx="415" cy="618.3" r="5"/><circle cx="425" cy="586.7" r="5"/><circle cx="433.3" cy="591.7" r="5"/><circle cx="445" cy="598.3" r="5"/><circle cx="436.7" cy="608.3" r="5"/><circle cx="432.5" cy="618.3" r="5"/><circle cx="465" cy="605" r="5"/><circle cx="473.3" cy="611.7" r="5"/><circle cx="483.3" cy="601.7" r="5"/><circle cx="451.7" cy="625" r="5"/><circle cx="465" cy="635" r="5"/><circle cx="471.7" cy="643.3" r="5"/><circle cx="476.7" cy="630" r="5"/><circle cx="481.7" cy="628.3" r="5"/><circle cx="1215.9" cy="689.7" r="5"/><circle cx="1222.1" cy="692.8" r="5"/><circle cx="1226.7" cy="686.7" r="5"/><circle cx="1235.9" cy="679" r="5"/><circle cx="1232.8" cy="688.2" r="5"/><circle cx="1268.1" cy="666.7" r="5"/><circle cx="1293.4" cy="656.8" r="5"/><circle cx="1288" cy="685.1" r="5"/><circle cx="1315.6" cy="685.1" r="5"/><circle cx="1329.4" cy="683.6" r="5"/><circle cx="1337.1" cy="685.1" r="5"/><circle cx="1340.1" cy="694.3" r="5"/><circle cx="1352.4" cy="693.6" r="5"/><circle cx="1347.8" cy="700.5" r="5"/><circle cx="1366.2" cy="705.1" r="5"/><circle cx="1309.5" cy="695.9" r="5"/><circle cx="1326.3" cy="695.9" r="5"/><circle cx="1324.8" cy="705.1" r="5"/><circle cx="1312.5" cy="714.3" r="5"/><circle cx="1307.2" cy="725" r="5"/><circle cx="1284.9" cy="709.7" r="5"/><circle cx="1289.5" cy="706.6" r="5"/><circle cx="1257.3" cy="717.3" r="5"/><circle cx="1260.4" cy="721.9" r="5"/><circle cx="1254.3" cy="731.1" r="5"/><circle cx="1260.4" cy="738.8" r="5"/><circle cx="1229.7" cy="737.3" r="5"/><circle cx="1235.9" cy="740.3" r="5"/><circle cx="1207.5" cy="731.1" r="5"/><circle cx="1196.8" cy="713.5" r="5"/><circle cx="1180.7" cy="726.5" r="5"/><circle cx="1182.2" cy="732.7" r="5"/><circle cx="1197.5" cy="741.9" r="5"/><circle cx="1196.8" cy="754.1" r="5"/><circle cx="1181.4" cy="758.7" r="5"/><circle cx="1186" cy="768.7" r="5"/><circle cx="1202.1" cy="766.4" r="5"/><circle cx="1202.1" cy="775.6" r="5"/><circle cx="1235.9" cy="763.3" r="5"/><circle cx="1242" cy="761.8" r="5"/><circle cx="1234.3" cy="771" r="5"/><circle cx="1237.4" cy="787.9" r="5"/><circle cx="1280.3" cy="752.6" r="5"/><circle cx="1284.9" cy="763.3" r="5"/><circle cx="1292.6" cy="764.9" r="5"/><circle cx="1297.2" cy="761.8" r="5"/><circle cx="1303.3" cy="737.3" r="5"/><circle cx="1311" cy="743.4" r="5"/><circle cx="1320.2" cy="740.3" r="5"/><circle cx="1338.6" cy="729.6" r="5"/><circle cx="1343.2" cy="734.2" r="5"/><circle cx="1358.5" cy="731.1" r="5"/><circle cx="1335.5" cy="751.1" r="5"/><circle cx="1352.4" cy="752.6" r="5"/><circle cx="1341.7" cy="767.9" r="5"/><circle cx="1329.4" cy="775.6" r="5"/><circle cx="1355.5" cy="774.1" r="5"/><circle cx="1380" cy="778.7" r="5"/><circle cx="1353.9" cy="792.5" r="5"/><circle cx="1296.4" cy="800.1" r="5"/><circle cx="1376.9" cy="806.3" r="5"/><circle cx="1337.1" cy="637.6" r="5"/><circle cx="1344.7" cy="645.3" r="5"/><circle cx="1320.2" cy="643.7" r="5"/><circle cx="1340.1" cy="633" r="5"/><circle cx="1372.3" cy="794" r="5"/><circle cx="902.4" cy="235.2" r="5"/><circle cx="921.6" cy="232.1" r="5"/><circle cx="929" cy="235.8" r="5"/><circle cx="934" cy="230.9" r="5"/><circle cx="942.7" cy="229" r="5"/><circle cx="952.6" cy="233.3" r="5"/><circle cx="932.8" cy="240.8" r="5"/><circle cx="939" cy="245.7" r="5"/><circle cx="948.9" cy="238.3" r="5"/><circle cx="957.5" cy="242" r="5"/><circle cx="898.1" cy="242" r="5"/><circle cx="890.7" cy="245.7" r="5"/><circle cx="884.5" cy="249.4" r="5"/><circle cx="904.9" cy="249.4" r="5"/><circle cx="869.6" cy="254.4" r="5"/><circle cx="869" cy="265.5" r="5"/><circle cx="875.8" cy="269.2" r="5"/><circle cx="885.7" cy="269.2" r="5"/><circle cx="894.4" cy="259.3" r="5"/><circle cx="895.6" cy="266.8" r="5"/><circle cx="903" cy="273" r="5"/><circle cx="909.2" cy="259.3" r="5"/><circle cx="916.7" cy="255.6" r="5"/><circle cx="922.9" cy="259.3" r="5"/><circle cx="929" cy="253.1" r="5"/><circle cx="926.6" cy="264.3" r="5"/><circle cx="937.7" cy="256.9" r="5"/><circle cx="946.4" cy="259.3" r="5"/><circle cx="951.3" cy="263" r="5"/><circle cx="952.6" cy="266.8" r="5"/><circle cx="839.9" cy="272.3" r="5"/><circle cx="857.2" cy="269.2" r="5"/><circle cx="855.4" cy="278.5" r="5"/><circle cx="844.9" cy="281" r="5"/><circle cx="874.6" cy="278.5" r="5"/><circle cx="880.8" cy="284.1" r="5"/><circle cx="885.7" cy="286.6" r="5"/><circle cx="894.4" cy="284.1" r="5"/><circle cx="896.9" cy="286.6" r="5"/><circle cx="874.6" cy="293.4" r="5"/><circle cx="862.2" cy="290.3" r="5"/><circle cx="861" cy="301.4" r="5"/><circle cx="838.7" cy="288.4" r="5"/><circle cx="830" cy="294" r="5"/><circle cx="825" cy="297.7" r="5"/><circle cx="840.5" cy="302.7" r="5"/><circle cx="936.5" cy="273" r="5"/><circle cx="939" cy="279.1" r="5"/><circle cx="937.7" cy="282.9" r="5"/><circle cx="924.1" cy="291.5" r="5"/><circle cx="927.8" cy="296.5" r="5"/><circle cx="953.8" cy="281.6" r="5"/><circle cx="947.6" cy="289" r="5"/><circle cx="946.4" cy="296.5" r="5"/><circle cx="946.4" cy="306.4" r="5"/><circle cx="955" cy="301.4" r="5"/><circle cx="903" cy="303.9" r="5"/><circle cx="909.2" cy="305.1" r="5"/><circle cx="894.4" cy="315.7" r="5"/><circle cx="903" cy="321.2" r="5"/><circle cx="910.5" cy="315" r="5"/><circle cx="920.4" cy="318.8" r="5"/><circle cx="917.9" cy="325" r="5"/><circle cx="926.6" cy="328.7" r="5"/><circle cx="932.8" cy="333.6" r="5"/><circle cx="939" cy="319.4" r="5"/><circle cx="944.5" cy="333" r="5"/><circle cx="809" cy="313.8" r="5"/><circle cx="813.9" cy="313.8" r="5"/><circle cx="804" cy="325" r="5"/><circle cx="809" cy="322.5" r="5"/><circle cx="816.4" cy="332.4" r="5"/><circle cx="820.1" cy="334.9" r="5"/><circle cx="817.6" cy="342.3" r="5"/><circle cx="821.3" cy="344.8" r="5"/><circle cx="835" cy="323.7" r="5"/><circle cx="856.6" cy="312.6" r="5"/><circle cx="874" cy="313.8" r="5"/><circle cx="861" cy="323.7" r="5"/><circle cx="868.4" cy="331.1" r="5"/><circle cx="861" cy="338.6" r="5"/><circle cx="799" cy="358.4" r="5"/><circle cx="806.5" cy="365.8" r="5"/><circle cx="813.9" cy="369.5" r="5"/><circle cx="821.3" cy="370.8" r="5"/><circle cx="823.8" cy="362.7" r="5"/><circle cx="839.3" cy="373.2" r="5"/><circle cx="859.7" cy="368.9" r="5"/><circle cx="873.3" cy="354.7" r="5"/><circle cx="896.2" cy="352.2" r="5"/><circle cx="903" cy="363.3" r="5"/><circle cx="910.5" cy="364.6" r="5"/><circle cx="921.6" cy="353.4" r="5"/><circle cx="927.8" cy="357.1" r="5"/><circle cx="926.6" cy="365.8" r="5"/><circle cx="940.2" cy="364.6" r="5"/><circle cx="945.1" cy="355.9" r="5"/><circle cx="955" cy="349.7" r="5"/><circle cx="894.4" cy="370.8" r="5"/><circle cx="969.3" cy="226.5" r="5"/><circle cx="1022.5" cy="229" r="5"/><circle cx="1034.3" cy="221.6" r="5"/><circle cx="1040.5" cy="221.6" r="5"/><circle cx="1056.6" cy="222.2" r="5"/><circle cx="1049.1" cy="235.8" r="5"/><circle cx="1033.7" cy="242" r="5"/><circle cx="1075.8" cy="237.7" r="5"/><circle cx="979.8" cy="250.7" r="5"/><circle cx="991" cy="248.2" r="5"/><circle cx="997.1" cy="247" r="5"/><circle cx="992.2" cy="255.6" r="5"/><circle cx="978.6" cy="260.6" r="5"/><circle cx="984.8" cy="264.3" r="5"/><circle cx="1005.8" cy="269.2" r="5"/><circle cx="995.9" cy="276.7" r="5"/><circle cx="974.9" cy="281.6" r="5"/><circle cx="965" cy="280.4" r="5"/><circle cx="988.5" cy="285.3" r="5"/><circle cx="1002.1" cy="282.9" r="5"/><circle cx="1007" cy="287.8" r="5"/><circle cx="967.4" cy="292.8" r="5"/><circle cx="972.4" cy="294" r="5"/><circle cx="981" cy="296.5" r="5"/><circle cx="991" cy="294" r="5"/><circle cx="1003.3" cy="295.2" r="5"/><circle cx="1008.3" cy="301.4" r="5"/><circle cx="984.8" cy="302" r="5"/><circle cx="974.9" cy="305.8" r="5"/><circle cx="1026.9" cy="279.1" r="5"/><circle cx="1031.8" cy="286" r="5"/><circle cx="1052.2" cy="290.9" r="5"/><circle cx="1055.3" cy="250.7" r="5"/><circle cx="1059" cy="253.1" r="5"/><circle cx="1049.1" cy="263" r="5"/><circle cx="1045.4" cy="270.5" r="5"/><circle cx="1047.9" cy="274.2" r="5"/><circle cx="1075.1" cy="254.4" r="5"/><circle cx="1085" cy="254.4" r="5"/><circle cx="1073.9" cy="265.5" r="5"/><circle cx="1082.6" cy="266.8" r="5"/><circle cx="1083.8" cy="271.7" r="5"/><circle cx="1082" cy="276.7" r="5"/><circle cx="968.7" cy="318.8" r="5"/><circle cx="980.4" cy="317.5" r="5"/><circle cx="979.8" cy="326.2" r="5"/><circle cx="1003.3" cy="312.6" r="5"/><circle cx="1005.8" cy="317.5" r="5"/><circle cx="1003.3" cy="332.4" r="5"/><circle cx="1050.4" cy="323.7" r="5"/><circle cx="1054.7" cy="349.7" r="5"/><circle cx="965.6" cy="360.2" r="5"/><circle cx="981" cy="362.7" r="5"/><circle cx="990.3" cy="356.5" r="5"/><circle cx="1010.8" cy="356.5" r="5"/><circle cx="969.9" cy="370.1" r="5"/><circle cx="1040.5" cy="364.6" r="5"/><circle cx="1067.7" cy="362.1" r="5"/><circle cx="1077.6" cy="363.3" r="5"/><circle cx="1078.9" cy="372" r="5"/><circle cx="1098.7" cy="361.5" r="5"/><circle cx="1112.3" cy="367" r="5"/><circle cx="1117.2" cy="370.8" r="5"/><circle cx="1149.4" cy="327.4" r="5"/><circle cx="1119.7" cy="337.3" r="5"/><circle cx="1125.9" cy="334.9" r="5"/><circle cx="1174.2" cy="321.2" r="5"/><circle cx="1191.5" cy="310.1" r="5"/><circle cx="1148.2" cy="363.3" r="5"/><circle cx="1155.6" cy="365.8" r="5"/><circle cx="810.2" cy="376.9" r="5"/><circle cx="817.6" cy="376.2" r="5"/><circle cx="839.9" cy="377.5" r="5"/><circle cx="842.4" cy="382.4" r="5"/><circle cx="895.6" cy="378.7" r="5"/><circle cx="929" cy="378.7" r="5"/><circle cx="753.2" cy="391.7" r="5"/><circle cx="780.5" cy="389.2" r="5"/><circle cx="812" cy="389.2" r="5"/><circle cx="822.6" cy="398.5" r="5"/><circle cx="804" cy="399.8" r="5"/><circle cx="853.5" cy="391.7" r="5"/><circle cx="861.6" cy="399.8" r="5"/><circle cx="878.9" cy="394.2" r="5"/><circle cx="903" cy="389.2" r="5"/><circle cx="935.2" cy="390.5" r="5"/><circle cx="952.6" cy="388.6" r="5"/><circle cx="918.5" cy="393.6" r="5"/><circle cx="763.8" cy="406" r="5"/><circle cx="764.4" cy="413.4" r="5"/><circle cx="779.9" cy="413.4" r="5"/><circle cx="794.1" cy="411.5" r="5"/><circle cx="800.3" cy="408.4" r="5"/><circle cx="809.6" cy="412.1" r="5"/><circle cx="819.5" cy="412.8" r="5"/><circle cx="888.8" cy="417.1" r="5"/><circle cx="899.3" cy="417.7" r="5"/><circle cx="910.5" cy="404.7" r="5"/><circle cx="909.2" cy="410.9" r="5"/><circle cx="914.2" cy="415.9" r="5"/><circle cx="921.6" cy="403.5" r="5"/><circle cx="926.6" cy="415.2" r="5"/><circle cx="936.5" cy="408.4" r="5"/><circle cx="940.2" cy="412.1" r="5"/><circle cx="951.3" cy="406" r="5"/><circle cx="937.7" cy="418.3" r="5"/><circle cx="950.1" cy="418.3" r="5"/><circle cx="940.2" cy="423.3" r="5"/><circle cx="958.8" cy="389.9" r="5"/><circle cx="764.4" cy="423.3" r="5"/><circle cx="757" cy="432" r="5"/><circle cx="790.4" cy="423.9" r="5"/><circle cx="799" cy="424.5" r="5"/><circle cx="804" cy="429.5" r="5"/><circle cx="802.8" cy="434.4" r="5"/><circle cx="787.3" cy="434.4" r="5"/><circle cx="848" cy="422" r="5"/><circle cx="836.2" cy="430.7" r="5"/><circle cx="837.4" cy="439.4" r="5"/><circle cx="833.7" cy="441.9" r="5"/><circle cx="851" cy="443.1" r="5"/><circle cx="854.8" cy="439.4" r="5"/><circle cx="864" cy="440.6" r="5"/><circle cx="921.6" cy="427" r="5"/><circle cx="929" cy="427" r="5"/><circle cx="939" cy="431.3" r="5"/><circle cx="953.8" cy="440.6" r="5"/><circle cx="909.2" cy="444.3" r="5"/><circle cx="909.2" cy="453" r="5"/><circle cx="919.1" cy="451.8" r="5"/><circle cx="750.8" cy="448" r="5"/><circle cx="747" cy="452.4" r="5"/><circle cx="765.6" cy="456.1" r="5"/><circle cx="794.1" cy="443.7" r="5"/><circle cx="797.8" cy="449.3" r="5"/><circle cx="790.4" cy="458" r="5"/><circle cx="837.4" cy="454.9" r="5"/><circle cx="885.7" cy="454.2" r="5"/><circle cx="893.1" cy="460.4" r="5"/><circle cx="878.3" cy="466.6" r="5"/><circle cx="870.9" cy="464.1" r="5"/><circle cx="867.1" cy="471.6" r="5"/><circle cx="946.4" cy="458" r="5"/><circle cx="955" cy="458" r="5"/><circle cx="953.8" cy="467.9" r="5"/><circle cx="942.7" cy="473.4" r="5"/><circle cx="830" cy="472.8" r="5"/><circle cx="773" cy="481.5" r="5"/><circle cx="779.2" cy="477.8" r="5"/><circle cx="783" cy="484" r="5"/><circle cx="811.4" cy="477.8" r="5"/><circle cx="817.6" cy="480.2" r="5"/><circle cx="826.3" cy="490.8" r="5"/><circle cx="856" cy="481.5" r="5"/><circle cx="861" cy="479" r="5"/><circle cx="849.8" cy="492.6" r="5"/><circle cx="859.7" cy="491.4" r="5"/><circle cx="896.9" cy="488.3" r="5"/><circle cx="908" cy="486.4" r="5"/><circle cx="769.3" cy="493.9" r="5"/><circle cx="769.3" cy="498.8" r="5"/><circle cx="776.8" cy="498.8" r="5"/><circle cx="775.5" cy="506.2" r="5"/><circle cx="769.3" cy="513.7" r="5"/><circle cx="779.2" cy="519.9" r="5"/><circle cx="789.1" cy="521.1" r="5"/><circle cx="790.4" cy="509.3" r="5"/><circle cx="800.9" cy="505.6" r="5"/><circle cx="815.8" cy="502.5" r="5"/><circle cx="812" cy="511.2" r="5"/><circle cx="824.4" cy="518.6" r="5"/><circle cx="828.8" cy="523" r="5"/><circle cx="812.7" cy="526" r="5"/><circle cx="822.6" cy="526" r="5"/><circle cx="846.7" cy="506.2" r="5"/><circle cx="863.4" cy="506.9" r="5"/><circle cx="901.2" cy="504.4" r="5"/><circle cx="913" cy="498.8" r="5"/><circle cx="931.5" cy="502.5" r="5"/><circle cx="924.1" cy="506.2" r="5"/><circle cx="921.6" cy="517.4" r="5"/><circle cx="929" cy="514.9" r="5"/><circle cx="882.6" cy="521.1" r="5"/><circle cx="953.8" cy="495.1" r="5"/><circle cx="954.4" cy="505.6" r="5"/><circle cx="956.3" cy="527.3" r="5"/><circle cx="945.8" cy="536" r="5"/><circle cx="962.5" cy="386.1" r="5"/><circle cx="992.2" cy="391.1" r="5"/><circle cx="997.1" cy="393.6" r="5"/><circle cx="978.6" cy="397.3" r="5"/><circle cx="983.5" cy="402.9" r="5"/><circle cx="994.7" cy="404.7" r="5"/><circle cx="1013.2" cy="394.8" r="5"/><circle cx="1020.7" cy="398.5" r="5"/><circle cx="1029.3" cy="396" r="5"/><circle cx="1031.8" cy="402.2" r="5"/><circle cx="1024.4" cy="401" r="5"/><circle cx="1030" cy="385.5" r="5"/><circle cx="1045.4" cy="387.4" r="5"/><circle cx="1050.4" cy="384.9" r="5"/><circle cx="1040.5" cy="407.2" r="5"/><circle cx="1019.4" cy="411.5" r="5"/><circle cx="982.3" cy="412.1" r="5"/><circle cx="982.3" cy="419.6" r="5"/><circle cx="998.4" cy="415.9" r="5"/><circle cx="999.6" cy="425.8" r="5"/><circle cx="1008.3" cy="424.5" r="5"/><circle cx="999.6" cy="433.2" r="5"/><circle cx="965" cy="423.3" r="5"/><circle cx="969.9" cy="441.9" r="5"/><circle cx="963.7" cy="449.3" r="5"/><circle cx="962.5" cy="459.2" r="5"/><circle cx="973.6" cy="456.7" r="5"/><circle cx="1002.7" cy="451.8" r="5"/><circle cx="1004" cy="460.4" r="5"/><circle cx="1030.6" cy="423.3" r="5"/><circle cx="1044.2" cy="423.3" r="5"/><circle cx="1044.2" cy="432.6" r="5"/><circle cx="1034.3" cy="440.6" r="5"/><circle cx="1046.7" cy="442.5" r="5"/><circle cx="1060.9" cy="450.5" r="5"/><circle cx="1030" cy="454.2" r="5"/><circle cx="1020.7" cy="460.4" r="5"/><circle cx="1014.5" cy="466.6" r="5"/><circle cx="1021.9" cy="474" r="5"/><circle cx="1029.3" cy="474" r="5"/><circle cx="1038" cy="477.8" r="5"/><circle cx="1057.8" cy="470.3" r="5"/><circle cx="1057.8" cy="477.8" r="5"/><circle cx="1046.7" cy="484" r="5"/><circle cx="978.6" cy="479" r="5"/><circle cx="969.9" cy="488.9" r="5"/><circle cx="997.1" cy="487.7" r="5"/><circle cx="1008.3" cy="487.7" r="5"/><circle cx="1010.8" cy="495.1" r="5"/><circle cx="1023.1" cy="491.4" r="5"/><circle cx="1036.8" cy="491.4" r="5"/><circle cx="1038" cy="498.8" r="5"/><circle cx="1051.6" cy="493.9" r="5"/><circle cx="1046.7" cy="504.4" r="5"/><circle cx="1009.5" cy="512.4" r="5"/><circle cx="1020.7" cy="511.2" r="5"/><circle cx="974.9" cy="511.2" r="5"/><circle cx="968.7" cy="519.9" r="5"/><circle cx="989.7" cy="519.9" r="5"/><circle cx="996.5" cy="527.3" r="5"/><circle cx="960" cy="528.5" r="5"/><circle cx="1078.9" cy="376.2" r="5"/><circle cx="1092.5" cy="378.7" r="5"/><circle cx="1103.6" cy="377.5" r="5"/><circle cx="1112.3" cy="377.5" r="5"/><circle cx="1122.2" cy="381.2" r="5"/><circle cx="1091.2" cy="388.6" r="5"/><circle cx="1099.9" cy="389.9" r="5"/><circle cx="1109.8" cy="391.1" r="5"/><circle cx="1104.9" cy="398.5" r="5"/><circle cx="1091.2" cy="396" r="5"/><circle cx="1073.9" cy="398.5" r="5"/><circle cx="1114.8" cy="407.2" r="5"/><circle cx="1124.7" cy="406" r="5"/><circle cx="1132.1" cy="396" r="5"/><circle cx="1135.8" cy="384.9" r="5"/><circle cx="1140.8" cy="396" r="5"/><circle cx="1144.5" cy="377.5" r="5"/><circle cx="1150.7" cy="375" r="5"/><circle cx="1536.5" cy="274.7" r="5"/><circle cx="1543.9" cy="272.2" r="5"/><circle cx="1542.6" cy="284.5" r="5"/><circle cx="1497" cy="296.9" r="5"/><circle cx="1501.9" cy="304.3" r="5"/><circle cx="1513" cy="301.8" r="5"/><circle cx="1487.1" cy="312.9" r="5"/><circle cx="1500.7" cy="319.1" r="5"/><circle cx="1506.9" cy="316.6" r="5"/><circle cx="1506.9" cy="336.3" r="5"/><circle cx="1526.6" cy="331.4" r="5"/><circle cx="1534" cy="328.9" r="5"/><circle cx="1520.4" cy="343.7" r="5"/><circle cx="1524.1" cy="358.5" r="5"/><circle cx="1535.2" cy="315.4" r="5"/><circle cx="1543.9" cy="306.7" r="5"/><circle cx="1548.8" cy="312.9" r="5"/><circle cx="1561.1" cy="308" r="5"/><circle cx="1563.6" cy="317.8" r="5"/><circle cx="1574.7" cy="322.8" r="5"/><circle cx="1562.4" cy="324" r="5"/><circle cx="1551.3" cy="340" r="5"/><circle cx="1580.9" cy="337.6" r="5"/><circle cx="1595.7" cy="349.9" r="5"/><circle cx="1593.2" cy="287" r="5"/><circle cx="1598.1" cy="291.9" r="5"/><circle cx="1612.9" cy="306.7" r="5"/><circle cx="1614.2" cy="310.4" r="5"/><circle cx="1616.6" cy="321.5" r="5"/><circle cx="1624" cy="338.8" r="5"/><circle cx="1622.8" cy="348.7" r="5"/><circle cx="1625.3" cy="358.5" r="5"/><circle cx="1536.5" cy="369.6" r="5"/><circle cx="1556.2" cy="363.5" r="5"/><circle cx="1575.9" cy="365.9" r="5"/><circle cx="1575.9" cy="375.8" r="5"/><circle cx="1573.5" cy="390.6" r="5"/><circle cx="1604.3" cy="384.4" r="5"/><circle cx="1600.6" cy="393.1" r="5"/><circle cx="1608" cy="365.9" r="5"/><circle cx="1603.1" cy="368.4" r="5"/><circle cx="1610.5" cy="362.2" r="5"/><circle cx="1546.3" cy="395.5" r="5"/><circle cx="1632.7" cy="400.5" r="5"/><circle cx="1642.5" cy="398" r="5"/><circle cx="1632.7" cy="411.6" r="5"/><circle cx="1647.5" cy="409.1" r="5"/><circle cx="1600.6" cy="415.3" r="5"/><circle cx="1608" cy="420.2" r="5"/><circle cx="1615.4" cy="425.1" r="5"/><circle cx="1562.4" cy="430.1" r="5"/><circle cx="1553.7" cy="439.9" r="5"/><circle cx="1616.6" cy="454.7" r="5"/><circle cx="1633.9" cy="459.7" r="5"/><circle cx="1556.2" cy="472" r="5"/><circle cx="1563.6" cy="473.2" r="5"/><circle cx="1571" cy="470.8" r="5"/><circle cx="1578.4" cy="467.1" r="5"/><circle cx="1563.6" cy="490.5" r="5"/><circle cx="1590.7" cy="504.1" r="5"/><circle cx="1567.3" cy="516.4" r="5"/><circle cx="1642.5" cy="502.8" r="5"/><circle cx="1647.5" cy="507.8" r="5"/><circle cx="1622.8" cy="526.3" r="5"/><circle cx="1642.5" cy="521.3" r="5"/><circle cx="1657.3" cy="523.8" r="5"/><circle cx="1645" cy="536.1" r="5"/><circle cx="1674.6" cy="528.7" r="5"/><circle cx="1686.9" cy="531.2" r="5"/><circle cx="1677.1" cy="538.6" r="5"/><circle cx="1585.8" cy="532.4" r="5"/><circle cx="1596.9" cy="536.1" r="5"/><circle cx="1587" cy="543.5" r="5"/><circle cx="1548.8" cy="536.1" r="5"/><circle cx="1545.1" cy="544.8" r="5"/><circle cx="1532.8" cy="546" r="5"/><circle cx="1558.7" cy="546" r="5"/><circle cx="1557.4" cy="555.9" r="5"/><circle cx="1553.7" cy="565.7" r="5"/><circle cx="1578.4" cy="550.9" r="5"/><circle cx="1588.3" cy="563.3" r="5"/><circle cx="1596.9" cy="558.3" r="5"/><circle cx="1593.2" cy="570.7" r="5"/><circle cx="1603.1" cy="570.7" r="5"/><circle cx="1583.3" cy="575.6" r="5"/><circle cx="1594.4" cy="580.5" r="5"/><circle cx="1598.1" cy="587.9" r="5"/><circle cx="1620.3" cy="563.3" r="5"/><circle cx="1627.7" cy="548.5" r="5"/><circle cx="1632.7" cy="555.9" r="5"/><circle cx="1622.8" cy="595.3" r="5"/><circle cx="1640.1" cy="565.7" r="5"/><circle cx="1637.6" cy="578.1" r="5"/><circle cx="1654.9" cy="548.5" r="5"/><circle cx="1664.7" cy="555.9" r="5"/><circle cx="1659.8" cy="563.3" r="5"/><circle cx="1677.1" cy="570.7" r="5"/><circle cx="1664.7" cy="575.6" r="5"/><circle cx="1113.3" cy="1010.5" r="5"/><circle cx="1122.1" cy="1007" r="5"/><circle cx="1127.4" cy="1017.6" r="5"/><circle cx="1111.6" cy="1021.1" r="5"/><circle cx="1118.6" cy="1012.3" r="5"/><circle cx="1143.3" cy="1008.8" r="5"/><circle cx="1148.6" cy="1001.7" r="5"/><circle cx="1138" cy="1015.8" r="5"/><circle cx="1136.2" cy="1026.4" r="5"/><circle cx="1141.5" cy="1022.9" r="5"/><circle cx="1148.6" cy="1022.9" r="5"/><circle cx="1155.6" cy="1019.3" r="5"/><circle cx="1159.1" cy="1026.4" r="5"/><circle cx="1164.4" cy="1029.9" r="5"/><circle cx="1171.5" cy="1021.1" r="5"/><circle cx="1134.5" cy="1037" r="5"/><circle cx="1115.1" cy="1037" r="5"/><circle cx="1102.8" cy="1044" r="5"/><circle cx="1088.7" cy="1042.2" r="5"/><circle cx="1078.1" cy="1051" r="5"/><circle cx="1088.7" cy="1058.1" r="5"/><circle cx="1065.8" cy="1063.4" r="5"/><circle cx="1090.4" cy="1072.2" r="5"/><circle cx="1095.7" cy="1077.5" r="5"/><circle cx="1065.8" cy="1086.3" r="5"/><circle cx="1044.6" cy="1084.5" r="5"/><circle cx="1037.6" cy="1088" r="5"/><circle cx="1127.4" cy="1066.9" r="5"/><circle cx="1146.8" cy="1051" r="5"/><circle cx="1145" cy="1058.1" r="5"/><circle cx="1155.6" cy="1058.1" r="5"/><circle cx="1157.4" cy="1065.1" r="5"/><circle cx="1164.4" cy="1074" r="5"/><circle cx="1159.1" cy="1077.5" r="5"/><circle cx="1148.6" cy="1075.7" r="5"/><circle cx="1125.7" cy="1082.8" r="5"/><circle cx="1165.3" cy="1050.2" r="5"/><circle cx="1182" cy="1045.8" r="5"/><circle cx="1176.8" cy="1035.2" r="5"/><circle cx="1190.9" cy="1021.1" r="5"/><circle cx="1196.1" cy="1029.9" r="5"/><circle cx="1197" cy="1037" r="5"/><circle cx="1213.8" cy="1028.1" r="5"/><circle cx="1227.9" cy="1019.3" r="5"/><circle cx="1219" cy="989.4" r="5"/><circle cx="1226.1" cy="985.9" r="5"/><circle cx="1238.4" cy="994.7" r="5"/><circle cx="1240.2" cy="1001.7" r="5"/><circle cx="1250.8" cy="996.4" r="5"/><circle cx="1254.3" cy="1001.7" r="5"/><circle cx="1259.6" cy="998.2" r="5"/><circle cx="1268.4" cy="1007" r="5"/><circle cx="1205" cy="1056.3" r="5"/><circle cx="1208.5" cy="1061.6" r="5"/><circle cx="1219" cy="1040.5" r="5"/><circle cx="1229.6" cy="1044" r="5"/><circle cx="1224.3" cy="1052.8" r="5"/><circle cx="1222.6" cy="1061.6" r="5"/><circle cx="1220.8" cy="1068.7" r="5"/><circle cx="1213.8" cy="1075.7" r="5"/><circle cx="1212" cy="1082.8" r="5"/><circle cx="1201.4" cy="1086.3" r="5"/><circle cx="1203.2" cy="1093.3" r="5"/><circle cx="1236.7" cy="1086.3" r="5"/><circle cx="1242" cy="1093.3" r="5"/><circle cx="1233.1" cy="1100.4" r="5"/><circle cx="1182" cy="1100.4" r="5"/><circle cx="1197.9" cy="1109.2" r="5"/><circle cx="1194.4" cy="1116.2" r="5"/><circle cx="1208.5" cy="1107.4" r="5"/><circle cx="1215.5" cy="1107.4" r="5"/><circle cx="1219" cy="1116.2" r="5"/><circle cx="1229.6" cy="1114.5" r="5"/><circle cx="1213.8" cy="1125" r="5"/><circle cx="1217.3" cy="1132.1" r="5"/><circle cx="1224.3" cy="1133.9" r="5"/><circle cx="1220.8" cy="1139.1" r="5"/><circle cx="1208.5" cy="1139.1" r="5"/><circle cx="1210.2" cy="1146.2" r="5"/><circle cx="1206.7" cy="1153.2" r="5"/><circle cx="1217.3" cy="1151.5" r="5"/><circle cx="1190.9" cy="1153.2" r="5"/><circle cx="1189.1" cy="1162" r="5"/><circle cx="1175" cy="1125" r="5"/><circle cx="1171.5" cy="1169.1" r="5"/><circle cx="1150.3" cy="1170.9" r="5"/><circle cx="1116.9" cy="1169.1" r="5"/><circle cx="1120.4" cy="1156.8" r="5"/><circle cx="1132.7" cy="1153.2" r="5"/><circle cx="1102.8" cy="1192" r="5"/><circle cx="1086.9" cy="1181.4" r="5"/><circle cx="1095.7" cy="1183.2" r="5"/><circle cx="1064" cy="1190.2" r="5"/><circle cx="1081.6" cy="1199" r="5"/><circle cx="1021.7" cy="1111" r="5"/><circle cx="1037.6" cy="1114.5" r="5"/><circle cx="1057" cy="1132.1" r="5"/><circle cx="1058.7" cy="1119.8" r="5"/><circle cx="1064" cy="1155" r="5"/><circle cx="1250.8" cy="1058.1" r="5"/><circle cx="1263.1" cy="1054.6" r="5"/><circle cx="1254.3" cy="1072.2" r="5"/><circle cx="1266.6" cy="1072.2" r="5"/><circle cx="1252.5" cy="1081" r="5"/><circle cx="1270.1" cy="1082.8" r="5"/><circle cx="1275.4" cy="1091.6" r="5"/><circle cx="1273.7" cy="1102.1" r="5"/><circle cx="1271.9" cy="1111" r="5"/><circle cx="1263.1" cy="1123.3" r="5"/><circle cx="1279" cy="1125" r="5"/><circle cx="1280.7" cy="1130.3" r="5"/><circle cx="1289.5" cy="1105.7" r="5"/><circle cx="1296.6" cy="1102.1" r="5"/><circle cx="1300.1" cy="1107.4" r="5"/><circle cx="1287.8" cy="1119.8" r="5"/><circle cx="1294.8" cy="1125" r="5"/><circle cx="1282.5" cy="1058.1" r="5"/><circle cx="1289.5" cy="1058.1" r="5"/><circle cx="1286" cy="1074" r="5"/><circle cx="1293" cy="1072.2" r="5"/><circle cx="1296.6" cy="1077.5" r="5"/><circle cx="1307.1" cy="1075.7" r="5"/><circle cx="1296.6" cy="1082.8" r="5"/><circle cx="1291.3" cy="1088" r="5"/><circle cx="1303.6" cy="1093.3" r="5"/><circle cx="1312.4" cy="1091.6" r="5"/><circle cx="1321.2" cy="1096.9" r="5"/><circle cx="1330" cy="1098.6" r="5"/><circle cx="1333.6" cy="1103.9" r="5"/><circle cx="1316" cy="1116.2" r="5"/><circle cx="1326.5" cy="1118" r="5"/><circle cx="1335.3" cy="1118" r="5"/><circle cx="1307.1" cy="1119.8" r="5"/><circle cx="1321.2" cy="1128.6" r="5"/><circle cx="1324.8" cy="1135.6" r="5"/><circle cx="1310.7" cy="1139.1" r="5"/><circle cx="1286" cy="1146.2" r="5"/><circle cx="1293" cy="1142.7" r="5"/><circle cx="1257.8" cy="1149.7" r="5"/><circle cx="1243.7" cy="1151.5" r="5"/><circle cx="1242" cy="1162" r="5"/><circle cx="1250.8" cy="1162" r="5"/><circle cx="1261.3" cy="1158.5" r="5"/><circle cx="1270.1" cy="1158.5" r="5"/><circle cx="1213.8" cy="1163.8" r="5"/><circle cx="625.3" cy="841.7" r="5"/><circle cx="636.4" cy="845.4" r="5"/><circle cx="645.7" cy="848.2" r="5"/><circle cx="662.4" cy="851" r="5"/><circle cx="669.9" cy="838" r="5"/><circle cx="675.4" cy="839.9" r="5"/><circle cx="686.6" cy="832.4" r="5"/><circle cx="679.1" cy="849.1" r="5"/><circle cx="692.1" cy="851" r="5"/><circle cx="623.4" cy="858.4" r="5"/><circle cx="621.6" cy="867.7" r="5"/><circle cx="630.9" cy="869.6" r="5"/><circle cx="671.7" cy="865.9" r="5"/><circle cx="681" cy="862.1" r="5"/><circle cx="684.7" cy="860.3" r="5"/><circle cx="608.6" cy="930.9" r="5"/><circle cx="614.1" cy="958.7" r="5"/><circle cx="623.4" cy="969.9" r="5"/><circle cx="623.4" cy="949.4" r="5"/><circle cx="630.9" cy="942" r="5"/><circle cx="645.7" cy="934.6" r="5"/><circle cx="638.3" cy="923.4" r="5"/><circle cx="656.9" cy="897.4" r="5"/><circle cx="649.4" cy="916" r="5"/><circle cx="658.7" cy="917.9" r="5"/><circle cx="681" cy="910.4" r="5"/><circle cx="690.3" cy="927.1" r="5"/><circle cx="697.7" cy="904.9" r="5"/><circle cx="694" cy="917.9" r="5"/><circle cx="699.6" cy="869.6" r="5"/><circle cx="701.4" cy="875.1" r="5"/><circle cx="712.6" cy="882.6" r="5"/><circle cx="718.1" cy="882.6" r="5"/><circle cx="707" cy="897.4" r="5"/><circle cx="731.1" cy="901.1" r="5"/><circle cx="746" cy="897.4" r="5"/><circle cx="757.1" cy="897.4" r="5"/><circle cx="749.7" cy="882.6" r="5"/><circle cx="753.4" cy="878.9" r="5"/><circle cx="746" cy="838" r="5"/><circle cx="753.4" cy="836.1" r="5"/><circle cx="738.6" cy="849.1" r="5"/><circle cx="747.9" cy="849.1" r="5"/><circle cx="723.7" cy="851" r="5"/><circle cx="723.7" cy="864" r="5"/><circle cx="770.1" cy="865.9" r="5"/><circle cx="777.6" cy="869.6" r="5"/><circle cx="764.6" cy="919.7" r="5"/><circle cx="736.7" cy="923.4" r="5"/><circle cx="753.4" cy="923.4" r="5"/><circle cx="710.7" cy="934.6" r="5"/><circle cx="716.3" cy="943.9" r="5"/><circle cx="744.1" cy="938.3" r="5"/><circle cx="744.1" cy="951.3" r="5"/><circle cx="753.4" cy="949.4" r="5"/><circle cx="770.1" cy="953.1" r="5"/><circle cx="772" cy="940.1" r="5"/><circle cx="785" cy="940.1" r="5"/><circle cx="792.4" cy="949.4" r="5"/><circle cx="751.6" cy="962.4" r="5"/><circle cx="731.1" cy="964.3" r="5"/><circle cx="716.3" cy="960.6" r="5"/><circle cx="710.7" cy="966.1" r="5"/><circle cx="701.4" cy="964.3" r="5"/><circle cx="675.4" cy="982.9" r="5"/><circle cx="688.4" cy="992.1" r="5"/><circle cx="695.9" cy="995.9" r="5"/><circle cx="710.7" cy="988.4" r="5"/><circle cx="814.7" cy="836.1" r="5"/><circle cx="824" cy="830.6" r="5"/><circle cx="825.9" cy="841.7" r="5"/><circle cx="822.1" cy="849.1" r="5"/><circle cx="835.1" cy="854.7" r="5"/><circle cx="816.6" cy="891.9" r="5"/><circle cx="820.3" cy="897.4" r="5"/><circle cx="837" cy="893.7" r="5"/><circle cx="864.9" cy="888.1" r="5"/><circle cx="896.4" cy="878.9" r="5"/><circle cx="870.4" cy="906.7" r="5"/><circle cx="913.1" cy="891.9" r="5"/><circle cx="916.9" cy="897.4" r="5"/><circle cx="942.9" cy="893.7" r="5"/><circle cx="950.3" cy="901.1" r="5"/><circle cx="814.7" cy="917.9" r="5"/><circle cx="790.6" cy="914.1" r="5"/><circle cx="779.4" cy="893.7" r="5"/><circle cx="768.3" cy="865.9" r="5"/><circle cx="1622" cy="814.3" r="5"/><circle cx="1626.7" cy="817" r="5"/><circle cx="1633.3" cy="814.3" r="5"/><circle cx="1646.7" cy="823" r="5"/><circle cx="1653.3" cy="827.7" r="5"/><circle cx="1669.3" cy="834.3" r="5"/><circle cx="1673.3" cy="835.7" r="5"/><circle cx="1688" cy="835" r="5"/><circle cx="1682.7" cy="841.7" r="5"/><circle cx="1689.3" cy="841.7" r="5"/><circle cx="1700.7" cy="843" r="5"/><circle cx="1713.3" cy="831" r="5"/><circle cx="1714" cy="845.7" r="5"/><circle cx="1706" cy="851.7" r="5"/><circle cx="1694" cy="859.7" r="5"/><circle cx="1680.7" cy="868.3" r="5"/><circle cx="1608.5" cy="1012.8" r="5"/><circle cx="304.2" cy="745" r="5"/><circle cx="307.7" cy="744.8" r="5"/><circle cx="1371.6" cy="450.8" r="5"/><circle cx="1386.8" cy="438.3" r="5"/><circle cx="1402" cy="435.6" r="5"/><circle cx="1279.1" cy="518.4" r="5"/><circle cx="1283.2" cy="521.2" r="5"/><circle cx="1284.6" cy="530.9" r="5"/></g>
<g fill="#fd9b6b"><circle cx="897.2" cy="808.5" r="5"/><circle cx="902.1" cy="782.8" r="5"/><circle cx="396.7" cy="464.2" r="5"/><circle cx="470" cy="570" r="5"/><circle cx="370" cy="604.2" r="5"/><circle cx="480" cy="608.3" r="5"/><circle cx="1237.4" cy="695.9" r="5"/><circle cx="1273.4" cy="693.6" r="5"/><circle cx="1317.1" cy="703.5" r="5"/><circle cx="1367.7" cy="787.9" r="5"/><circle cx="1386.9" cy="797.8" r="5"/><circle cx="916.7" cy="266.8" r="5"/><circle cx="949.5" cy="249.4" r="5"/><circle cx="852.3" cy="299" r="5"/><circle cx="893.1" cy="300.8" r="5"/><circle cx="955" cy="295.9" r="5"/><circle cx="951.3" cy="309.5" r="5"/><circle cx="856" cy="334.2" r="5"/><circle cx="901.2" cy="368.9" r="5"/><circle cx="947.6" cy="372" r="5"/><circle cx="973.6" cy="233.3" r="5"/><circle cx="1051" cy="221.6" r="5"/><circle cx="1075.1" cy="236.4" r="5"/><circle cx="984.8" cy="275.4" r="5"/><circle cx="1173.6" cy="316.3" r="5"/><circle cx="768.1" cy="389.9" r="5"/><circle cx="756.3" cy="418.3" r="5"/><circle cx="922.9" cy="393" r="5"/><circle cx="922.2" cy="432" r="5"/><circle cx="908" cy="438.8" r="5"/><circle cx="919.8" cy="446.8" r="5"/><circle cx="875.8" cy="443.1" r="5"/><circle cx="947.6" cy="375.6" r="5"/><circle cx="984.8" cy="388" r="5"/><circle cx="1002.7" cy="409" r="5"/><circle cx="1004.6" cy="419" r="5"/><circle cx="1019.4" cy="427" r="5"/><circle cx="1035.5" cy="473.4" r="5"/><circle cx="1047.9" cy="492" r="5"/><circle cx="1017.6" cy="498.8" r="5"/><circle cx="1017.6" cy="509.3" r="5"/><circle cx="1145.7" cy="387.4" r="5"/><circle cx="1587" cy="330.2" r="5"/><circle cx="1590.7" cy="368.4" r="5"/><circle cx="1624.8" cy="382" r="5"/><circle cx="1545.1" cy="407.9" r="5"/><circle cx="1569.8" cy="564.5" r="5"/><circle cx="1610.5" cy="558.3" r="5"/><circle cx="1612.9" cy="592.9" r="5"/><circle cx="1643.8" cy="589.2" r="5"/><circle cx="1661" cy="583" r="5"/><circle cx="1136.2" cy="1001.7" r="5"/><circle cx="1174.1" cy="1022.9" r="5"/><circle cx="1145" cy="1040.5" r="5"/><circle cx="1078.1" cy="1077.5" r="5"/><circle cx="1039.3" cy="1084.5" r="5"/><circle cx="1166.2" cy="1165.6" r="5"/><circle cx="1081.6" cy="1170.9" r="5"/><circle cx="1072.8" cy="1183.2" r="5"/><circle cx="1076.3" cy="1179.7" r="5"/><circle cx="1049.9" cy="1202.6" r="5"/><circle cx="1115.1" cy="1179.7" r="5"/><circle cx="1034" cy="1132.1" r="5"/><circle cx="1271.9" cy="1121.5" r="5"/><circle cx="1271.9" cy="1140.9" r="5"/><circle cx="647.6" cy="882.6" r="5"/><circle cx="634.6" cy="882.6" r="5"/><circle cx="629" cy="882.6" r="5"/><circle cx="656.9" cy="858.4" r="5"/><circle cx="669.9" cy="857.5" r="5"/><circle cx="671.7" cy="851.9" r="5"/><circle cx="675.4" cy="875.1" r="5"/><circle cx="651.3" cy="882.6" r="5"/><circle cx="616" cy="925.3" r="5"/><circle cx="627.1" cy="901.1" r="5"/><circle cx="664.3" cy="929" r="5"/><circle cx="668.9" cy="936.4" r="5"/><circle cx="682.9" cy="938.3" r="5"/><circle cx="703.3" cy="899.3" r="5"/><circle cx="688.4" cy="904.9" r="5"/><circle cx="721.9" cy="855.6" r="5"/><circle cx="727.4" cy="873.3" r="5"/><circle cx="755.3" cy="854.7" r="5"/><circle cx="770.1" cy="836.1" r="5"/><circle cx="781.3" cy="858.4" r="5"/><circle cx="779.4" cy="873.3" r="5"/><circle cx="801.7" cy="873.3" r="5"/><circle cx="811" cy="877" r="5"/><circle cx="855.6" cy="858.4" r="5"/><circle cx="887.1" cy="871.4" r="5"/><circle cx="881.6" cy="912.3" r="5"/><circle cx="894.6" cy="904.9" r="5"/><circle cx="903.9" cy="906.7" r="5"/><circle cx="959.6" cy="908.6" r="5"/><circle cx="805.4" cy="910.4" r="5"/><circle cx="720" cy="934.6" r="5"/><circle cx="727.4" cy="927.1" r="5"/><circle cx="733" cy="927.1" r="5"/><circle cx="734.9" cy="940.1" r="5"/><circle cx="749.7" cy="923.4" r="5"/><circle cx="760.9" cy="964.3" r="5"/><circle cx="692.1" cy="962.4" r="5"/><circle cx="697.7" cy="960.6" r="5"/><circle cx="684.7" cy="971.7" r="5"/><circle cx="697.7" cy="973.6" r="5"/><circle cx="695.9" cy="981" r="5"/><circle cx="703.3" cy="992.1" r="5"/><circle cx="718.1" cy="990.3" r="5"/><circle cx="666.1" cy="968" r="5"/><circle cx="1639.7" cy="821" r="5"/><circle cx="1658.7" cy="829" r="5"/><circle cx="1686" cy="865" r="5"/><circle cx="1600.7" cy="1014.9" r="5"/><circle cx="1612.4" cy="1025.3" r="5"/><circle cx="1308.7" cy="409.3" r="5"/><circle cx="1315" cy="414.2" r="5"/><circle cx="1378.5" cy="445.2" r="5"/><circle cx="1384" cy="441.1" r="5"/><circle cx="1400.6" cy="432.8" r="5"/></g>
<g fill="#fcf7b9"><circle cx="884.4" cy="801.1" r="5"/><circle cx="450.8" cy="619.2" r="5"/><circle cx="480.8" cy="617.5" r="5"/><circle cx="1347.8" cy="670.6" r="5"/><circle cx="1081.6" cy="1045.8" r="5"/><circle cx="645.7" cy="856.6" r="5"/></g>
<g fill="#000004"></g>
<rect x="220" y="143" width="4.6" height="1161.6" fill="#000"/>
<rect x="220" y="1300.2" width="1609" height="4.6" fill="#000"/>
<rect x="208" y="447.8" width="13" height="4.4" fill="#000"/>
<rect x="208" y="868.9" width="13" height="4.4" fill="#000"/>
<rect x="208" y="1289.9" width="13" height="4.4" fill="#000"/>
<rect x="345.2" y="1303" width="4.6" height="14" fill="#000"/>
<rect x="866.2" y="1303" width="4.6" height="14" fill="#000"/>
<rect x="1387.3" y="1303" width="4.6" height="14" fill="#000"/>
<defs><linearGradient id="mg" x1="0" y1="0" x2="0" y2="1"><stop offset="0.000" stop-color="#fcfdbf"/><stop offset="0.025" stop-color="#fcf2b4"/><stop offset="0.050" stop-color="#fde7a9"/><stop offset="0.075" stop-color="#fdda9c"/><stop offset="0.100" stop-color="#fecf92"/><stop offset="0.125" stop-color="#fec488"/><stop offset="0.150" stop-color="#feb77e"/><stop offset="0.175" stop-color="#feac76"/><stop offset="0.200" stop-color="#fe9f6d"/><stop offset="0.225" stop-color="#fd9467"/><stop offset="0.250" stop-color="#fc8961"/><stop offset="0.275" stop-color="#f97b5d"/><stop offset="0.300" stop-color="#f7705c"/><stop offset="0.325" stop-color="#f2645c"/><stop offset="0.350" stop-color="#ed5a5f"/><stop offset="0.375" stop-color="#e75263"/><stop offset="0.400" stop-color="#de4968"/><stop offset="0.425" stop-color="#d5446d"/><stop offset="0.450" stop-color="#ca3e72"/><stop offset="0.475" stop-color="#c03a76"/><stop offset="0.500" stop-color="#b73779"/><stop offset="0.525" stop-color="#ab337c"/><stop offset="0.550" stop-color="#a1307e"/><stop offset="0.575" stop-color="#962c80"/><stop offset="0.600" stop-color="#8c2981"/><stop offset="0.625" stop-color="#832681"/><stop offset="0.650" stop-color="#782281"/><stop offset="0.675" stop-color="#6e1e81"/><stop offset="0.700" stop-color="#641a80"/><stop offset="0.725" stop-color="#5a167e"/><stop offset="0.750" stop-color="#51127c"/><stop offset="0.775" stop-color="#451077"/><stop offset="0.800" stop-color="#3b0f70"/><stop offset="0.825" stop-color="#2f1163"/><stop offset="0.850" stop-color="#251255"/><stop offset="0.875" stop-color="#1d1147"/><stop offset="0.900" stop-color="#140e36"/><stop offset="0.925" stop-color="#0d0a29"/><stop offset="0.950" stop-color="#06051a"/><stop offset="0.975" stop-color="#02020d"/><stop offset="1.000" stop-color="#000004"/></linearGradient></defs>
<rect x="1885" y="578.2" width="64" height="319.6" fill="url(#mg)"/>
<g fill="#fff"><rect x="1885" y="666.9" width="13" height="1.8"/><rect x="1936" y="666.9" width="13" height="1.8"/>
<rect x="1885" y="781.8" width="13" height="1.8"/><rect x="1936" y="781.8" width="13" height="1.8"/>
<rect x="1885" y="896.8" width="13" height="1.8"/><rect x="1936" y="896.8" width="13" height="1.8"/></g>
<g font-family="Liberation Sans, sans-serif" fill="#000"><text transform="matrix(0.4889 0 0 0.5197 140.09 468.08)" font-size="100">10</text><text transform="matrix(0.4875 0 0 0.5225 167.05 889.48)" font-size="100">0</text><text transform="matrix(0.5007 0 0 0.5127 122.00 1309.79)" font-size="100">-10</text><text transform="matrix(0.5022 0 0 0.5169 310.89 1365.88)" font-size="100">-10</text><text transform="matrix(0.4854 0 0 0.5183 854.06 1366.28)" font-size="100">0</text><text transform="matrix(0.4879 0 0 0.5127 1362.10 1365.89)" font-size="100">10</text><text transform="matrix(0.6710 0 0 0.7282 941.79 101.57)" font-size="100" font-weight="bold">AVL9</text><text transform="matrix(0.5561 0 0 0.6217 909.35 1434.80)" font-size="100">UMAP_1</text><text transform="matrix(0.4890 0 0 0.5225 1979.19 686.38)" font-size="100">1.0</text><text transform="matrix(0.5038 0 0 0.5169 1977.78 801.18)" font-size="100">0.5</text><text transform="matrix(0.5023 0 0 0.5239 1977.79 916.38)" font-size="100">0.0</text><text transform="matrix(0 -0.5811 0.6217 0 94.90 839.35)" font-size="100">UMAP_2</text></g>
</svg></body></html>
